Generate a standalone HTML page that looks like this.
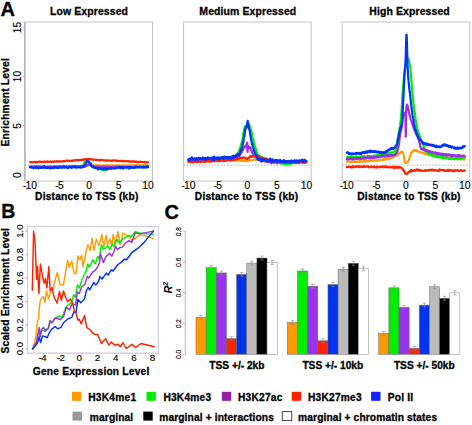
<!DOCTYPE html>
<html><head><meta charset="utf-8"><style>
html,body{margin:0;padding:0;background:#fff;width:472px;height:425px;overflow:hidden}
svg{display:block}
text{font-family:"Liberation Sans",sans-serif;fill:#000}
</style></head><body>
<svg width="472" height="425" viewBox="0 0 472 425">
<rect width="472" height="425" fill="#fff"/>
<rect x="24.9" y="22.0" width="127.6" height="159.0" fill="none" stroke="#c4c4c4" stroke-width="1"/>
<line x1="24.9" y1="165.16" x2="152.5" y2="165.16" stroke="#999" stroke-width="0.8" stroke-dasharray="1.5,1.6"/>
<rect x="183.6" y="22.0" width="127.6" height="159.0" fill="none" stroke="#c4c4c4" stroke-width="1"/>
<line x1="183.6" y1="165.16" x2="311.2" y2="165.16" stroke="#999" stroke-width="0.8" stroke-dasharray="1.5,1.6"/>
<rect x="342.2" y="22.0" width="127.6" height="159.0" fill="none" stroke="#c4c4c4" stroke-width="1"/>
<line x1="342.2" y1="165.16" x2="469.79999999999995" y2="165.16" stroke="#999" stroke-width="0.8" stroke-dasharray="1.5,1.6"/>
<polyline points="30.00,167.13 30.59,167.07 31.18,167.18 31.77,167.30 32.36,167.22 32.95,167.32 33.54,167.12 34.13,166.86 34.72,167.22 35.31,167.25 35.90,167.03 36.49,167.06 37.08,167.11 37.67,167.31 38.26,167.13 38.85,166.99 39.44,167.39 40.03,167.21 40.62,167.50 41.21,167.38 41.80,167.48 42.39,167.17 42.98,167.37 43.57,167.07 44.16,167.09 44.75,167.15 45.34,167.61 45.93,167.22 46.52,167.12 47.11,167.09 47.70,167.41 48.29,167.21 48.88,167.30 49.47,167.27 50.06,166.90 50.65,167.27 51.24,167.11 51.83,166.93 52.42,167.22 53.01,167.12 53.60,167.08 54.19,167.08 54.78,167.34 55.37,167.08 55.96,166.82 56.55,167.39 57.14,166.92 57.73,167.06 58.32,167.21 58.91,166.69 59.50,166.93 60.09,167.31 60.68,167.06 61.27,166.95 61.86,167.10 62.45,166.93 63.04,167.07 63.63,166.93 64.22,166.77 64.81,167.18 65.40,167.01 65.99,167.13 66.58,167.01 67.17,167.27 67.76,167.15 68.35,167.07 68.94,166.85 69.53,166.80 70.12,167.28 70.71,167.17 71.30,166.88 71.89,167.40 72.48,167.09 73.07,167.01 73.66,166.74 74.25,166.85 74.84,167.04 75.43,167.05 76.02,167.02 76.61,166.67 77.20,167.04 77.79,167.01 78.38,166.88 78.97,166.97 79.56,166.98 80.15,167.15 80.74,166.92 81.33,166.97 81.92,166.61 82.51,166.64 83.10,166.70 83.69,166.48 84.28,166.57 84.87,166.19 85.46,166.27 86.05,166.03 86.64,166.16 87.23,165.46 87.82,165.46 88.41,165.20 89.00,164.73 89.59,164.88 90.18,164.76 90.77,164.48 91.36,165.23 91.95,165.33 92.54,165.29 93.13,165.32 93.72,165.49 94.31,165.50 94.90,165.32 95.49,165.35 96.08,165.66 96.67,165.47 97.26,165.45 97.85,165.66 98.44,165.40 99.03,165.62 99.62,165.26 100.21,165.42 100.80,165.44 101.39,165.57 101.98,165.48 102.57,165.85 103.16,165.68 103.75,165.38 104.34,165.87 104.93,165.29 105.52,165.80 106.11,165.31 106.70,165.62 107.29,165.30 107.88,165.43 108.47,165.76 109.06,165.21 109.65,165.17 110.24,165.47 110.83,165.51 111.42,165.49 112.01,165.65 112.60,165.24 113.19,165.56 113.78,165.47 114.37,165.61 114.96,165.58 115.55,165.71 116.14,165.21 116.73,165.49 117.32,165.27 117.91,165.45 118.50,165.59 119.09,165.52 119.68,165.57 120.27,165.45 120.86,165.53 121.45,165.51 122.04,165.73 122.63,165.61 123.22,165.13 123.81,165.59 124.40,165.66 124.99,165.39 125.58,165.18 126.17,165.74 126.76,165.50 127.35,165.58 127.94,165.80 128.53,165.31 129.12,165.46 129.71,165.44 130.30,165.60 130.89,165.37 131.48,165.56 132.07,165.48 132.66,165.67 133.25,165.69 133.84,165.19 134.43,165.55 135.02,165.40 135.61,165.46 136.20,165.54 136.79,165.56 137.38,165.33 137.97,165.51 138.56,165.49 139.15,165.45 139.74,165.22 140.33,165.32 140.92,165.38 141.51,165.57 142.10,165.73 142.69,165.27 143.28,165.27 143.87,165.48 144.46,165.35 145.05,165.30 145.64,165.29 146.23,165.27 146.82,165.54 147.41,165.16 148.00,165.70" fill="none" stroke="#ff9d00" stroke-width="2.2" stroke-linejoin="round" stroke-linecap="round" />
<polyline points="30.00,166.96 30.59,167.03 31.18,166.96 31.77,166.76 32.36,166.84 32.95,167.35 33.54,167.46 34.13,166.97 34.72,167.33 35.31,167.13 35.90,166.96 36.49,167.45 37.08,167.54 37.67,167.07 38.26,167.12 38.85,167.17 39.44,167.11 40.03,167.29 40.62,167.42 41.21,167.15 41.80,167.31 42.39,167.44 42.98,167.02 43.57,167.13 44.16,167.03 44.75,167.31 45.34,167.24 45.93,167.30 46.52,167.28 47.11,167.07 47.70,167.26 48.29,167.03 48.88,167.03 49.47,166.70 50.06,167.37 50.65,166.91 51.24,167.10 51.83,167.09 52.42,167.36 53.01,167.17 53.60,166.93 54.19,167.08 54.78,167.05 55.37,167.12 55.96,166.83 56.55,167.06 57.14,167.48 57.73,167.18 58.32,167.42 58.91,167.67 59.50,167.13 60.09,166.76 60.68,167.01 61.27,167.24 61.86,167.19 62.45,166.77 63.04,166.96 63.63,166.97 64.22,166.99 64.81,166.96 65.40,166.80 65.99,166.85 66.58,166.90 67.17,167.14 67.76,166.83 68.35,167.06 68.94,166.70 69.53,167.15 70.12,166.92 70.71,166.89 71.30,167.14 71.89,166.53 72.48,166.57 73.07,166.94 73.66,166.68 74.25,166.75 74.84,167.33 75.43,166.75 76.02,166.80 76.61,166.76 77.20,166.97 77.79,166.80 78.38,166.77 78.97,166.49 79.56,166.64 80.15,166.70 80.74,166.38 81.33,166.78 81.92,166.73 82.51,166.99 83.10,165.85 83.69,164.80 84.28,163.30 84.87,161.83 85.46,160.78 86.05,160.30 86.64,160.55 87.23,160.99 87.82,161.61 88.41,162.13 89.00,163.20 89.59,164.20 90.18,165.12 90.77,165.80 91.36,165.83 91.95,166.37 92.54,166.75 93.13,167.11 93.72,167.51 94.31,167.54 94.90,167.57 95.49,168.02 96.08,168.17 96.67,168.34 97.26,168.43 97.85,168.92 98.44,168.80 99.03,169.07 99.62,168.88 100.21,169.35 100.80,169.22 101.39,169.15 101.98,169.63 102.57,169.77 103.16,169.69 103.75,169.77 104.34,169.98 104.93,169.66 105.52,169.27 106.11,169.59 106.70,169.41 107.29,169.38 107.88,168.90 108.47,168.98 109.06,168.73 109.65,168.04 110.24,168.27 110.83,167.70 111.42,167.47 112.01,167.62 112.60,167.51 113.19,167.22 113.78,167.62 114.37,167.68 114.96,167.81 115.55,167.52 116.14,167.22 116.73,167.31 117.32,167.67 117.91,167.63 118.50,167.55 119.09,167.38 119.68,167.46 120.27,167.37 120.86,167.34 121.45,167.44 122.04,167.38 122.63,167.32 123.22,167.36 123.81,167.23 124.40,166.95 124.99,167.20 125.58,167.29 126.17,167.62 126.76,167.21 127.35,167.66 127.94,167.54 128.53,167.09 129.12,167.11 129.71,167.27 130.30,167.57 130.89,167.30 131.48,167.35 132.07,167.08 132.66,166.76 133.25,167.15 133.84,167.34 134.43,167.42 135.02,167.19 135.61,167.21 136.20,167.40 136.79,167.14 137.38,167.39 137.97,166.94 138.56,166.95 139.15,166.94 139.74,167.24 140.33,167.04 140.92,167.17 141.51,167.22 142.10,167.20 142.69,167.39 143.28,167.42 143.87,166.98 144.46,167.17 145.05,167.09 145.64,166.93 146.23,167.47 146.82,167.28 147.41,167.09 148.00,167.05" fill="none" stroke="#00ee00" stroke-width="2.2" stroke-linejoin="round" stroke-linecap="round" />
<polyline points="30.00,166.71 30.59,166.43 31.18,166.59 31.77,166.87 32.36,166.82 32.95,166.48 33.54,166.54 34.13,167.01 34.72,166.37 35.31,166.52 35.90,166.37 36.49,166.71 37.08,166.69 37.67,166.86 38.26,166.13 38.85,166.67 39.44,166.32 40.03,166.76 40.62,166.60 41.21,166.96 41.80,166.71 42.39,166.44 42.98,166.87 43.57,166.42 44.16,166.56 44.75,166.83 45.34,166.72 45.93,166.71 46.52,166.63 47.11,166.73 47.70,166.78 48.29,166.68 48.88,166.82 49.47,166.87 50.06,166.62 50.65,166.44 51.24,166.91 51.83,166.61 52.42,166.73 53.01,166.80 53.60,166.43 54.19,166.70 54.78,166.30 55.37,166.75 55.96,166.52 56.55,166.64 57.14,166.74 57.73,166.47 58.32,166.61 58.91,166.46 59.50,166.59 60.09,166.79 60.68,166.59 61.27,166.56 61.86,166.38 62.45,166.74 63.04,166.56 63.63,166.89 64.22,166.42 64.81,166.76 65.40,166.90 65.99,166.55 66.58,166.32 67.17,166.83 67.76,166.74 68.35,166.67 68.94,166.74 69.53,166.43 70.12,166.66 70.71,166.64 71.30,166.38 71.89,166.64 72.48,166.40 73.07,166.67 73.66,166.71 74.25,166.83 74.84,166.09 75.43,166.52 76.02,166.40 76.61,166.45 77.20,166.40 77.79,166.42 78.38,166.04 78.97,166.62 79.56,166.71 80.15,166.60 80.74,166.65 81.33,166.24 81.92,166.21 82.51,166.56 83.10,166.63 83.69,166.42 84.28,166.07 84.87,166.82 85.46,165.97 86.05,166.01 86.64,165.29 87.23,165.40 87.82,164.98 88.41,165.04 89.00,164.86 89.59,164.48 90.18,164.81 90.77,165.36 91.36,165.81 91.95,166.38 92.54,166.40 93.13,166.55 93.72,166.65 94.31,166.66 94.90,166.87 95.49,166.67 96.08,166.68 96.67,166.42 97.26,166.32 97.85,166.72 98.44,166.85 99.03,166.72 99.62,166.83 100.21,166.87 100.80,166.74 101.39,166.94 101.98,166.62 102.57,166.77 103.16,166.71 103.75,166.80 104.34,166.91 104.93,166.96 105.52,166.83 106.11,166.89 106.70,166.74 107.29,166.80 107.88,167.07 108.47,166.79 109.06,167.07 109.65,166.94 110.24,166.88 110.83,167.23 111.42,166.81 112.01,166.80 112.60,166.87 113.19,166.92 113.78,166.92 114.37,167.04 114.96,166.91 115.55,166.96 116.14,166.84 116.73,167.10 117.32,166.82 117.91,166.84 118.50,166.90 119.09,166.96 119.68,166.77 120.27,167.21 120.86,166.79 121.45,166.84 122.04,166.83 122.63,166.82 123.22,167.02 123.81,166.95 124.40,166.77 124.99,166.82 125.58,166.86 126.17,167.20 126.76,166.80 127.35,166.68 127.94,166.71 128.53,166.86 129.12,167.22 129.71,166.73 130.30,166.94 130.89,167.41 131.48,166.84 132.07,167.21 132.66,167.17 133.25,167.05 133.84,166.67 134.43,167.00 135.02,166.87 135.61,166.58 136.20,166.61 136.79,166.95 137.38,166.97 137.97,167.18 138.56,167.06 139.15,166.84 139.74,166.85 140.33,166.91 140.92,166.73 141.51,167.08 142.10,166.94 142.69,166.79 143.28,166.82 143.87,166.72 144.46,166.85 145.05,166.99 145.64,166.86 146.23,167.13 146.82,167.25 147.41,166.82 148.00,166.94" fill="none" stroke="#9933dd" stroke-width="2.2" stroke-linejoin="round" stroke-linecap="round" />
<polyline points="30.00,161.95 30.59,162.34 31.18,162.08 31.77,162.13 32.36,162.18 32.95,162.45 33.54,162.07 34.13,161.82 34.72,161.92 35.31,162.11 35.90,161.98 36.49,161.83 37.08,162.51 37.67,161.99 38.26,161.85 38.85,161.81 39.44,161.60 40.03,161.70 40.62,161.86 41.21,161.85 41.80,161.74 42.39,161.99 42.98,161.88 43.57,161.69 44.16,161.47 44.75,161.87 45.34,161.84 45.93,161.77 46.52,161.53 47.11,161.79 47.70,161.48 48.29,161.95 48.88,161.78 49.47,161.76 50.06,161.55 50.65,161.49 51.24,161.97 51.83,161.84 52.42,161.58 53.01,161.76 53.60,161.91 54.19,161.39 54.78,161.48 55.37,161.46 55.96,161.63 56.55,161.31 57.14,161.55 57.73,161.26 58.32,161.64 58.91,161.61 59.50,161.38 60.09,161.54 60.68,161.24 61.27,161.30 61.86,161.50 62.45,161.27 63.04,161.32 63.63,161.03 64.22,161.29 64.81,161.22 65.40,160.85 65.99,160.60 66.58,160.61 67.17,160.94 67.76,160.87 68.35,160.56 68.94,160.84 69.53,160.97 70.12,160.71 70.71,160.60 71.30,160.81 71.89,160.92 72.48,160.83 73.07,160.37 73.66,160.60 74.25,160.43 74.84,160.31 75.43,160.17 76.02,160.31 76.61,160.09 77.20,160.31 77.79,160.16 78.38,160.24 78.97,159.76 79.56,159.94 80.15,160.03 80.74,159.90 81.33,159.83 81.92,159.60 82.51,160.01 83.10,159.85 83.69,159.68 84.28,159.06 84.87,159.31 85.46,159.47 86.05,159.26 86.64,158.95 87.23,159.36 87.82,159.36 88.41,159.02 89.00,159.16 89.59,159.13 90.18,159.39 90.77,158.96 91.36,159.06 91.95,159.34 92.54,159.39 93.13,159.98 93.72,159.52 94.31,159.74 94.90,159.66 95.49,159.65 96.08,159.89 96.67,160.19 97.26,159.82 97.85,160.07 98.44,160.03 99.03,160.11 99.62,160.09 100.21,160.51 100.80,159.85 101.39,160.07 101.98,159.93 102.57,159.78 103.16,160.20 103.75,160.59 104.34,160.43 104.93,160.52 105.52,160.41 106.11,160.32 106.70,160.76 107.29,160.32 107.88,160.71 108.47,160.38 109.06,160.49 109.65,160.56 110.24,160.53 110.83,160.65 111.42,160.69 112.01,160.93 112.60,160.63 113.19,160.29 113.78,160.29 114.37,160.44 114.96,160.59 115.55,160.89 116.14,160.50 116.73,160.83 117.32,160.86 117.91,160.93 118.50,160.88 119.09,161.01 119.68,160.97 120.27,161.19 120.86,161.08 121.45,160.59 122.04,161.08 122.63,161.14 123.22,161.01 123.81,161.00 124.40,161.39 124.99,161.24 125.58,161.04 126.17,161.20 126.76,161.25 127.35,161.00 127.94,161.46 128.53,161.34 129.12,161.49 129.71,161.12 130.30,161.82 130.89,161.60 131.48,161.59 132.07,161.39 132.66,161.42 133.25,161.30 133.84,161.91 134.43,161.47 135.02,161.71 135.61,161.81 136.20,161.59 136.79,161.91 137.38,162.16 137.97,161.85 138.56,162.10 139.15,161.96 139.74,161.78 140.33,161.82 140.92,161.59 141.51,161.97 142.10,162.26 142.69,162.13 143.28,162.19 143.87,162.27 144.46,161.97 145.05,162.21 145.64,162.50 146.23,162.00 146.82,162.18 147.41,162.11 148.00,162.19" fill="none" stroke="#ff2200" stroke-width="2.2" stroke-linejoin="round" stroke-linecap="round" />
<polyline points="30.00,167.21 30.59,167.50 31.18,166.91 31.77,167.31 32.36,167.33 32.95,167.32 33.54,168.24 34.13,167.60 34.72,167.65 35.31,167.42 35.90,168.19 36.49,166.71 37.08,167.46 37.67,168.11 38.26,168.35 38.85,167.65 39.44,167.55 40.03,167.86 40.62,167.46 41.21,167.82 41.80,167.23 42.39,167.86 42.98,167.52 43.57,167.02 44.16,166.23 44.75,167.99 45.34,167.72 45.93,167.90 46.52,167.10 47.11,168.05 47.70,167.72 48.29,167.49 48.88,167.96 49.47,167.94 50.06,167.70 50.65,168.50 51.24,168.18 51.83,167.66 52.42,167.39 53.01,167.55 53.60,168.32 54.19,167.68 54.78,167.05 55.37,167.17 55.96,167.48 56.55,167.87 57.14,167.12 57.73,167.71 58.32,168.00 58.91,167.81 59.50,166.70 60.09,167.30 60.68,166.84 61.27,167.64 61.86,166.94 62.45,167.69 63.04,167.47 63.63,166.16 64.22,167.00 64.81,167.62 65.40,167.41 65.99,167.21 66.58,166.77 67.17,167.60 67.76,168.21 68.35,167.49 68.94,167.34 69.53,167.29 70.12,166.69 70.71,167.17 71.30,166.92 71.89,167.86 72.48,166.89 73.07,166.28 73.66,166.92 74.25,167.17 74.84,167.22 75.43,166.41 76.02,167.73 76.61,167.32 77.20,167.03 77.79,166.88 78.38,167.45 78.97,167.07 79.56,167.34 80.15,167.13 80.74,167.24 81.33,167.71 81.92,167.14 82.51,166.54 83.10,167.05 83.69,166.12 84.28,164.98 84.87,165.06 85.46,163.67 86.05,163.55 86.64,161.84 87.23,160.78 87.82,160.66 88.41,161.77 89.00,161.66 89.59,162.58 90.18,163.40 90.77,163.59 91.36,165.90 91.95,165.56 92.54,166.76 93.13,166.43 93.72,167.26 94.31,167.88 94.90,167.59 95.49,167.51 96.08,167.99 96.67,167.88 97.26,168.48 97.85,169.36 98.44,167.95 99.03,168.14 99.62,168.49 100.21,168.61 100.80,168.20 101.39,169.00 101.98,169.17 102.57,168.96 103.16,168.31 103.75,169.58 104.34,168.31 104.93,169.20 105.52,169.41 106.11,168.22 106.70,168.86 107.29,169.42 107.88,168.92 108.47,168.24 109.06,168.07 109.65,168.82 110.24,168.36 110.83,168.16 111.42,168.77 112.01,168.23 112.60,168.36 113.19,168.56 113.78,168.48 114.37,168.16 114.96,168.13 115.55,168.37 116.14,168.26 116.73,167.46 117.32,167.87 117.91,167.51 118.50,167.32 119.09,167.60 119.68,166.75 120.27,168.25 120.86,167.42 121.45,167.95 122.04,166.86 122.63,166.91 123.22,168.69 123.81,168.18 124.40,167.36 124.99,167.27 125.58,167.27 126.17,167.65 126.76,167.37 127.35,167.25 127.94,167.59 128.53,167.02 129.12,168.62 129.71,167.18 130.30,167.98 130.89,166.98 131.48,167.54 132.07,167.85 132.66,167.21 133.25,167.82 133.84,167.81 134.43,168.11 135.02,167.34 135.61,167.06 136.20,166.79 136.79,167.35 137.38,166.75 137.97,167.24 138.56,167.28 139.15,166.94 139.74,166.69 140.33,167.37 140.92,167.31 141.51,167.26 142.10,167.13 142.69,167.61 143.28,166.65 143.87,167.35 144.46,166.92 145.05,167.55 145.64,166.96 146.23,166.94 146.82,167.34 147.41,166.13 148.00,166.95" fill="none" stroke="#0033ff" stroke-width="2.2" stroke-linejoin="round" stroke-linecap="round" />
<polyline points="188.40,161.86 188.99,161.95 189.58,162.19 190.17,162.07 190.76,161.84 191.35,161.84 191.94,161.78 192.53,161.79 193.12,162.02 193.71,161.65 194.30,161.99 194.89,161.42 195.48,161.58 196.07,161.53 196.66,161.38 197.25,161.23 197.84,161.52 198.43,161.53 199.02,161.35 199.61,161.50 200.20,161.25 200.79,160.70 201.38,161.18 201.97,160.81 202.56,161.17 203.15,160.81 203.74,160.89 204.33,160.81 204.92,160.65 205.51,160.39 206.10,160.67 206.69,160.65 207.28,160.84 207.87,160.51 208.46,160.65 209.05,160.41 209.64,160.56 210.23,160.19 210.82,160.90 211.41,160.55 212.00,160.30 212.59,160.52 213.18,160.59 213.77,160.47 214.36,160.68 214.95,160.37 215.54,159.90 216.13,160.14 216.72,160.57 217.31,160.52 217.90,160.41 218.49,160.13 219.08,160.48 219.67,160.44 220.26,160.12 220.85,160.12 221.44,160.36 222.03,160.50 222.62,160.58 223.21,160.41 223.80,160.70 224.39,160.11 224.98,160.38 225.57,160.16 226.16,159.88 226.75,160.02 227.34,160.47 227.93,160.07 228.52,160.02 229.11,160.39 229.70,160.43 230.29,160.26 230.88,160.56 231.47,159.95 232.06,160.71 232.65,160.46 233.24,160.30 233.83,160.31 234.42,160.25 235.01,160.25 235.60,160.38 236.19,160.15 236.78,160.83 237.37,160.45 237.96,160.64 238.55,160.51 239.14,160.54 239.73,160.80 240.32,160.79 240.91,160.54 241.50,160.66 242.09,160.90 242.68,160.40 243.27,160.39 243.86,161.17 244.45,160.86 245.04,160.46 245.63,160.83 246.22,160.96 246.81,161.06 247.40,161.13 247.99,161.00 248.58,160.90 249.17,160.43 249.76,160.45 250.35,160.33 250.94,160.40 251.53,160.09 252.12,160.19 252.71,159.98 253.30,159.68 253.89,159.76 254.48,159.70 255.07,159.70 255.66,159.74 256.25,159.77 256.84,159.83 257.43,159.66 258.02,160.08 258.61,159.67 259.20,160.01 259.79,160.26 260.38,160.32 260.97,160.48 261.56,160.44 262.15,160.75 262.74,160.52 263.33,161.04 263.92,161.47 264.51,161.31 265.10,161.70 265.69,161.44 266.28,161.36 266.87,161.56 267.46,162.06 268.05,162.05 268.64,161.65 269.23,162.01 269.82,162.13 270.41,161.97 271.00,161.73 271.59,161.97 272.18,162.21 272.77,162.19 273.36,162.15 273.95,162.41 274.54,162.51 275.13,162.31 275.72,162.52 276.31,162.36 276.90,162.34 277.49,161.92 278.08,162.56 278.67,162.43 279.26,162.45 279.85,162.34 280.44,162.24 281.03,162.55 281.62,162.63 282.21,162.80 282.80,162.67 283.39,162.39 283.98,162.50 284.57,162.72 285.16,162.60 285.75,162.53 286.34,162.45 286.93,162.67 287.52,162.61 288.11,162.93 288.70,162.81 289.29,162.27 289.88,163.03 290.47,162.67 291.06,162.57 291.65,162.69 292.24,162.78 292.83,162.64 293.42,162.64 294.01,162.66 294.60,163.02 295.19,162.68 295.78,162.83 296.37,162.77 296.96,162.62 297.55,162.55 298.14,162.50 298.73,162.78 299.32,162.50 299.91,162.45 300.50,162.46 301.09,162.42 301.68,162.72 302.27,162.73 302.86,162.53 303.45,162.97 304.04,162.66 304.63,162.80 305.22,162.77 305.81,163.04 306.40,162.88" fill="none" stroke="#ff9d00" stroke-width="2.2" stroke-linejoin="round" stroke-linecap="round" />
<polyline points="188.40,159.07 188.69,158.80 188.99,158.77 189.29,159.08 189.58,159.11 189.88,159.30 190.17,158.94 190.47,159.13 190.76,158.88 191.06,158.54 191.35,159.06 191.65,159.49 191.94,159.30 192.24,159.48 192.53,159.40 192.83,158.66 193.12,158.98 193.42,159.49 193.71,158.84 194.01,158.66 194.30,159.14 194.60,159.23 194.89,159.13 195.19,158.94 195.48,158.83 195.78,158.67 196.07,158.65 196.37,158.66 196.66,158.60 196.96,158.80 197.25,159.45 197.55,159.03 197.84,158.89 198.14,159.09 198.43,158.71 198.73,159.08 199.02,159.24 199.32,158.53 199.61,158.76 199.91,158.88 200.20,158.67 200.50,158.62 200.79,158.83 201.09,159.65 201.38,159.12 201.68,159.04 201.97,159.19 202.27,158.84 202.56,158.53 202.86,159.02 203.15,159.21 203.45,158.26 203.74,158.99 204.04,159.21 204.33,158.77 204.63,158.70 204.92,159.03 205.22,158.58 205.51,158.94 205.81,159.06 206.10,158.73 206.40,158.54 206.69,158.94 206.99,158.65 207.28,158.76 207.58,157.89 207.87,158.92 208.17,158.29 208.46,158.70 208.76,158.71 209.05,158.45 209.35,158.39 209.64,158.27 209.94,158.53 210.23,158.79 210.53,158.76 210.82,158.44 211.12,158.40 211.41,158.14 211.71,158.42 212.00,158.22 212.30,158.07 212.59,158.45 212.89,158.92 213.18,158.81 213.48,158.87 213.77,157.96 214.07,158.67 214.36,158.04 214.66,158.21 214.95,157.86 215.25,158.05 215.54,158.36 215.84,158.37 216.13,158.27 216.43,158.22 216.72,158.41 217.02,158.25 217.31,157.74 217.61,158.70 217.90,158.10 218.20,158.43 218.49,158.08 218.79,157.87 219.08,158.11 219.38,157.85 219.67,158.52 219.97,157.70 220.26,158.19 220.56,157.80 220.85,157.91 221.15,158.70 221.44,158.14 221.74,157.83 222.03,157.41 222.33,157.76 222.62,157.74 222.92,158.21 223.21,157.35 223.51,157.21 223.80,157.71 224.10,157.76 224.39,158.14 224.69,157.38 224.98,156.82 225.28,157.37 225.57,157.19 225.87,157.37 226.16,157.79 226.46,157.08 226.75,157.81 227.05,157.48 227.34,157.30 227.64,157.09 227.93,157.20 228.23,157.18 228.52,157.49 228.82,157.61 229.11,157.18 229.41,157.38 229.70,157.52 230.00,157.48 230.29,157.22 230.59,157.59 230.88,157.40 231.18,157.45 231.47,156.88 231.77,156.78 232.06,156.27 232.36,157.27 232.65,157.00 232.95,156.48 233.24,156.75 233.54,156.69 233.83,155.98 234.13,156.46 234.42,156.56 234.72,156.45 235.01,155.79 235.31,155.61 235.60,155.90 235.90,155.57 236.19,154.89 236.49,154.63 236.78,154.74 237.08,154.10 237.37,153.79 237.67,154.08 237.96,153.18 238.26,152.43 238.55,152.13 238.85,151.96 239.14,150.73 239.44,149.71 239.73,148.73 240.03,149.08 240.32,146.83 240.62,146.99 240.91,145.34 241.21,144.14 241.50,143.03 241.80,142.05 242.09,141.19 242.39,139.39 242.68,138.36 242.98,137.21 243.27,133.81 243.57,132.57 243.86,130.45 244.16,129.65 244.45,127.61 244.75,126.64 245.04,126.17 245.34,126.28 245.63,126.29 245.93,125.67 246.22,125.98 246.52,125.58 246.81,124.83 247.11,124.95 247.40,124.55 247.70,124.41 247.99,123.72 248.29,123.86 248.58,124.24 248.88,124.07 249.17,125.10 249.47,125.58 249.76,125.94 250.06,127.36 250.35,127.85 250.65,129.01 250.94,129.61 251.24,130.33 251.53,132.31 251.83,133.36 252.12,135.08 252.42,136.55 252.71,137.94 253.01,138.46 253.30,139.41 253.60,141.08 253.89,142.54 254.19,143.21 254.48,144.59 254.78,145.31 255.07,146.49 255.37,147.50 255.66,148.37 255.96,149.66 256.25,150.50 256.55,151.74 256.84,152.25 257.14,153.42 257.43,153.86 257.73,154.82 258.02,155.06 258.32,155.31 258.61,156.15 258.91,156.24 259.20,156.51 259.50,156.23 259.79,156.14 260.09,156.57 260.38,157.08 260.68,156.70 260.97,157.71 261.27,156.96 261.56,157.72 261.86,158.47 262.15,157.00 262.45,157.44 262.74,158.34 263.04,158.10 263.33,158.34 263.63,158.36 263.92,158.94 264.22,158.82 264.51,158.59 264.81,158.77 265.10,158.59 265.40,159.02 265.69,158.45 265.99,159.46 266.28,159.27 266.58,160.01 266.87,159.91 267.17,159.24 267.46,160.00 267.76,159.65 268.05,159.92 268.35,160.29 268.64,160.17 268.94,160.31 269.23,160.38 269.53,160.10 269.82,160.21 270.12,160.65 270.41,160.83 270.71,160.55 271.00,160.74 271.30,160.48 271.59,160.08 271.89,160.69 272.18,161.02 272.48,161.13 272.77,161.41 273.07,161.49 273.36,161.59 273.66,161.48 273.95,161.56 274.25,161.29 274.54,161.70 274.84,161.71 275.13,162.08 275.43,161.30 275.72,161.71 276.02,161.40 276.31,161.77 276.61,161.64 276.90,162.23 277.20,162.02 277.49,161.51 277.79,162.75 278.08,162.12 278.38,162.04 278.67,162.49 278.97,162.47 279.26,162.39 279.56,163.04 279.85,162.79 280.15,163.25 280.44,163.26 280.74,163.31 281.03,163.24 281.33,163.22 281.62,163.19 281.92,163.81 282.21,162.84 282.51,163.15 282.80,163.33 283.10,163.71 283.39,163.67 283.69,163.52 283.98,163.60 284.28,164.27 284.57,163.57 284.87,162.94 285.16,164.40 285.46,163.56 285.75,163.76 286.05,163.91 286.34,163.47 286.64,164.24 286.93,163.82 287.23,163.41 287.52,163.89 287.82,163.93 288.11,163.74 288.41,163.87 288.70,163.23 289.00,163.93 289.29,163.34 289.59,163.94 289.88,163.31 290.18,163.49 290.47,164.18 290.77,163.35 291.06,163.61 291.36,163.37 291.65,162.71 291.95,163.46 292.24,163.38 292.54,162.57 292.83,162.92 293.13,162.44 293.42,162.76 293.72,163.08 294.01,162.79 294.31,162.36 294.60,162.41 294.90,162.67 295.19,162.62 295.49,162.64 295.78,162.75 296.08,161.96 296.37,162.51 296.67,162.83 296.96,162.60 297.26,162.20 297.55,162.20 297.85,162.41 298.14,162.54 298.44,162.30 298.73,162.79 299.03,162.65 299.32,161.98 299.62,162.35 299.91,162.06 300.21,161.78 300.50,161.92 300.80,162.09 301.09,161.43 301.39,161.84 301.68,162.13 301.98,161.78 302.27,161.85 302.57,162.21 302.86,161.91 303.16,161.96 303.45,162.49 303.75,161.92 304.04,161.94 304.34,161.96 304.63,162.31 304.93,161.90 305.22,161.79 305.52,161.73 305.81,162.09 306.11,161.54 306.40,162.08" fill="none" stroke="#00ee00" stroke-width="2.2" stroke-linejoin="round" stroke-linecap="round" />
<polyline points="188.40,159.82 188.52,159.35 188.64,159.96 188.75,159.90 188.87,159.42 188.99,159.86 189.11,159.84 189.23,159.68 189.34,159.43 189.46,160.42 189.58,160.00 189.70,160.05 189.82,160.08 189.93,160.01 190.05,160.00 190.17,159.66 190.29,160.02 190.41,159.71 190.52,159.62 190.64,159.97 190.76,159.71 190.88,159.25 191.00,159.65 191.11,159.94 191.23,159.76 191.35,160.02 191.47,159.66 191.59,159.48 191.70,159.99 191.82,159.81 191.94,159.41 192.06,159.89 192.18,159.68 192.29,160.05 192.41,159.99 192.53,159.89 192.65,159.10 192.77,159.86 192.88,159.89 193.00,159.90 193.12,159.79 193.24,159.54 193.36,159.68 193.47,159.13 193.59,159.67 193.71,159.31 193.83,159.65 193.95,159.55 194.06,160.16 194.18,159.77 194.30,159.75 194.42,159.80 194.54,160.36 194.65,159.47 194.77,159.84 194.89,159.85 195.01,159.80 195.13,159.79 195.24,159.60 195.36,160.10 195.48,160.00 195.60,159.63 195.72,159.68 195.83,159.83 195.95,159.89 196.07,159.96 196.19,159.73 196.31,159.37 196.42,160.03 196.54,159.26 196.66,159.46 196.78,159.84 196.90,159.48 197.01,160.14 197.13,160.22 197.25,160.09 197.37,159.82 197.49,159.80 197.60,159.85 197.72,159.67 197.84,160.33 197.96,159.55 198.08,160.12 198.19,159.89 198.31,159.82 198.43,160.03 198.55,160.10 198.67,159.99 198.78,159.69 198.90,159.51 199.02,159.52 199.14,159.98 199.26,159.92 199.37,159.95 199.49,159.55 199.61,160.28 199.73,159.31 199.85,159.82 199.96,159.90 200.08,159.57 200.20,159.36 200.32,159.57 200.44,159.36 200.55,159.62 200.67,159.30 200.79,159.29 200.91,159.69 201.03,159.23 201.14,159.61 201.26,159.63 201.38,159.92 201.50,159.73 201.62,159.42 201.73,160.03 201.85,159.45 201.97,159.54 202.09,159.56 202.21,160.29 202.32,159.67 202.44,159.44 202.56,159.86 202.68,159.60 202.80,160.33 202.91,159.43 203.03,159.82 203.15,159.36 203.27,160.16 203.39,159.41 203.50,159.68 203.62,159.37 203.74,159.88 203.86,159.79 203.98,158.94 204.09,159.85 204.21,159.81 204.33,159.68 204.45,159.90 204.57,159.24 204.68,159.08 204.80,159.80 204.92,160.10 205.04,159.24 205.16,159.25 205.27,159.34 205.39,159.23 205.51,159.83 205.63,159.62 205.75,159.98 205.86,159.98 205.98,159.27 206.10,159.76 206.22,158.88 206.34,159.53 206.45,159.74 206.57,159.31 206.69,159.01 206.81,159.40 206.93,159.90 207.04,159.43 207.16,159.13 207.28,159.68 207.40,159.76 207.52,159.23 207.63,159.48 207.75,159.85 207.87,159.63 207.99,159.74 208.11,159.42 208.22,159.48 208.34,159.16 208.46,159.29 208.58,159.96 208.70,159.37 208.81,159.23 208.93,159.35 209.05,159.18 209.17,159.64 209.29,159.76 209.40,159.20 209.52,159.79 209.64,160.11 209.76,159.16 209.88,159.68 209.99,159.55 210.11,159.87 210.23,159.84 210.35,159.79 210.47,159.55 210.58,159.33 210.70,160.11 210.82,159.21 210.94,159.78 211.06,159.74 211.17,159.22 211.29,159.44 211.41,159.87 211.53,158.87 211.65,159.66 211.76,159.33 211.88,159.34 212.00,158.98 212.12,159.53 212.24,159.09 212.35,159.60 212.47,159.05 212.59,159.60 212.71,159.48 212.83,158.81 212.94,159.27 213.06,159.33 213.18,158.69 213.30,159.24 213.42,159.59 213.53,159.12 213.65,159.69 213.77,159.00 213.89,158.97 214.01,159.49 214.12,159.51 214.24,159.26 214.36,159.31 214.48,159.60 214.60,159.13 214.71,159.90 214.83,159.42 214.95,159.41 215.07,159.37 215.19,159.19 215.30,159.64 215.42,159.10 215.54,159.32 215.66,159.45 215.78,159.66 215.89,159.60 216.01,159.14 216.13,159.53 216.25,159.22 216.37,158.92 216.48,158.92 216.60,158.76 216.72,159.30 216.84,159.53 216.96,158.91 217.07,159.11 217.19,158.87 217.31,159.19 217.43,158.83 217.55,158.93 217.66,158.97 217.78,159.02 217.90,159.05 218.02,159.09 218.14,159.09 218.25,158.86 218.37,159.30 218.49,158.63 218.61,159.17 218.73,158.84 218.84,159.15 218.96,159.19 219.08,158.51 219.20,159.20 219.32,159.48 219.43,159.31 219.55,159.18 219.67,158.45 219.79,159.02 219.91,158.80 220.02,159.36 220.14,158.96 220.26,158.86 220.38,158.52 220.50,159.25 220.61,158.86 220.73,158.94 220.85,159.33 220.97,159.03 221.09,159.09 221.20,159.69 221.32,158.83 221.44,158.84 221.56,159.12 221.68,159.38 221.79,158.54 221.91,158.89 222.03,158.66 222.15,158.54 222.27,159.11 222.38,158.71 222.50,159.01 222.62,158.95 222.74,158.95 222.86,158.92 222.97,158.59 223.09,158.87 223.21,158.95 223.33,158.98 223.45,158.79 223.56,159.15 223.68,159.02 223.80,158.88 223.92,159.03 224.04,158.89 224.15,159.03 224.27,158.25 224.39,158.44 224.51,158.69 224.63,158.84 224.74,158.17 224.86,158.71 224.98,158.82 225.10,158.70 225.22,158.69 225.33,158.36 225.45,158.78 225.57,158.14 225.69,159.02 225.81,158.54 225.92,159.04 226.04,158.20 226.16,158.82 226.28,158.74 226.40,158.44 226.51,158.33 226.63,159.03 226.75,158.79 226.87,159.09 226.99,158.63 227.10,158.70 227.22,158.76 227.34,158.85 227.46,158.76 227.58,158.86 227.69,158.47 227.81,158.17 227.93,159.18 228.05,158.64 228.17,158.72 228.28,158.44 228.40,158.86 228.52,158.62 228.64,158.87 228.76,158.35 228.87,158.52 228.99,158.59 229.11,158.42 229.23,158.60 229.35,158.98 229.46,158.33 229.58,158.41 229.70,158.54 229.82,158.19 229.94,158.11 230.05,158.79 230.17,158.69 230.29,157.99 230.41,158.02 230.53,158.65 230.64,158.77 230.76,158.60 230.88,158.55 231.00,158.87 231.12,158.38 231.23,158.76 231.35,158.73 231.47,158.09 231.59,158.56 231.71,158.37 231.82,158.15 231.94,158.09 232.06,158.42 232.18,158.30 232.30,158.54 232.41,157.77 232.53,158.09 232.65,158.60 232.77,158.26 232.89,158.04 233.00,158.10 233.12,157.68 233.24,157.80 233.36,158.35 233.48,158.19 233.59,158.52 233.71,158.05 233.83,158.05 233.95,157.27 234.07,158.02 234.18,158.63 234.30,158.18 234.42,157.92 234.54,158.29 234.66,158.14 234.77,157.96 234.89,157.71 235.01,157.82 235.13,157.99 235.25,157.46 235.36,157.81 235.48,157.75 235.60,157.96 235.72,157.74 235.84,157.27 235.95,157.89 236.07,157.38 236.19,157.09 236.31,157.36 236.43,157.13 236.54,157.47 236.66,156.70 236.78,156.70 236.90,156.90 237.02,157.42 237.13,157.15 237.25,156.49 237.37,156.21 237.49,156.57 237.61,156.22 237.72,156.70 237.84,156.51 237.96,156.38 238.08,156.19 238.20,156.69 238.31,155.89 238.43,155.70 238.55,156.36 238.67,156.35 238.79,155.77 238.90,155.99 239.02,156.42 239.14,155.40 239.26,155.51 239.38,155.62 239.49,154.76 239.61,155.23 239.73,155.38 239.85,154.99 239.97,155.18 240.08,154.95 240.20,154.44 240.32,154.55 240.44,154.34 240.56,153.52 240.67,153.56 240.79,153.37 240.91,153.24 241.03,153.04 241.15,152.53 241.26,152.73 241.38,151.95 241.50,152.54 241.62,152.10 241.74,152.20 241.85,151.65 241.97,151.16 242.09,150.64 242.21,151.02 242.33,150.59 242.44,150.46 242.56,150.34 242.68,150.24 242.80,149.64 242.92,149.95 243.03,149.19 243.15,149.00 243.27,148.99 243.39,148.90 243.51,148.82 243.62,147.67 243.74,148.44 243.86,147.42 243.98,147.55 244.10,147.69 244.21,147.79 244.33,147.02 244.45,146.71 244.57,147.40 244.69,147.13 244.80,146.65 244.92,146.79 245.04,146.22 245.16,146.92 245.28,146.52 245.39,146.98 245.51,145.92 245.63,146.67 245.75,147.02 245.87,146.31 245.98,146.20 246.10,145.47 246.22,146.00 246.34,145.75 246.46,145.40 246.57,144.86 246.69,144.81 246.81,143.75 246.93,143.17 247.05,142.84 247.16,142.51 247.28,145.07 247.40,150.09 247.52,152.01 247.64,151.85 247.75,149.07 247.87,147.10 247.99,146.49 248.11,146.70 248.23,146.56 248.34,146.39 248.46,146.35 248.58,146.54 248.70,146.39 248.82,146.92 248.93,146.77 249.05,147.39 249.17,146.79 249.29,147.06 249.41,147.33 249.52,146.96 249.64,147.19 249.76,148.33 249.88,147.61 250.00,148.19 250.11,147.60 250.23,147.36 250.35,148.44 250.47,148.47 250.59,148.79 250.70,148.84 250.82,149.00 250.94,149.06 251.06,149.99 251.18,149.51 251.29,150.52 251.41,150.44 251.53,150.45 251.65,150.86 251.77,151.63 251.88,151.84 252.00,152.04 252.12,152.19 252.24,152.10 252.36,153.08 252.47,152.81 252.59,153.01 252.71,153.25 252.83,153.49 252.95,153.38 253.06,153.87 253.18,153.93 253.30,154.17 253.42,153.95 253.54,155.18 253.65,154.38 253.77,154.97 253.89,155.11 254.01,155.45 254.13,155.85 254.24,155.54 254.36,155.76 254.48,155.54 254.60,156.25 254.72,155.52 254.83,155.99 254.95,156.27 255.07,156.52 255.19,156.67 255.31,156.89 255.42,156.83 255.54,156.78 255.66,156.95 255.78,157.43 255.90,157.20 256.01,157.49 256.13,157.28 256.25,156.88 256.37,157.35 256.49,157.73 256.60,158.21 256.72,158.24 256.84,158.42 256.96,157.79 257.08,158.32 257.19,158.16 257.31,158.45 257.43,158.32 257.55,158.01 257.67,158.71 257.78,158.68 257.90,158.89 258.02,158.46 258.14,159.09 258.26,159.18 258.37,159.32 258.49,159.38 258.61,158.88 258.73,158.32 258.85,159.42 258.96,158.89 259.08,159.14 259.20,159.58 259.32,159.38 259.44,159.40 259.55,159.58 259.67,158.84 259.79,160.01 259.91,159.38 260.03,159.43 260.14,159.74 260.26,159.56 260.38,159.38 260.50,159.63 260.62,159.59 260.73,159.55 260.85,160.39 260.97,159.39 261.09,159.19 261.21,159.61 261.32,159.64 261.44,160.39 261.56,160.04 261.68,160.28 261.80,160.25 261.91,159.83 262.03,160.38 262.15,160.22 262.27,160.78 262.39,160.29 262.50,160.26 262.62,160.52 262.74,160.56 262.86,159.82 262.98,160.77 263.09,160.76 263.21,160.72 263.33,160.16 263.45,159.92 263.57,160.47 263.68,160.82 263.80,160.76 263.92,160.35 264.04,160.96 264.16,160.30 264.27,160.34 264.39,160.76 264.51,160.62 264.63,160.62 264.75,160.41 264.86,161.21 264.98,160.58 265.10,161.07 265.22,161.21 265.34,160.98 265.45,161.10 265.57,161.36 265.69,161.56 265.81,161.40 265.93,160.72 266.04,160.59 266.16,161.00 266.28,160.87 266.40,161.40 266.52,161.29 266.63,161.21 266.75,161.64 266.87,161.64 266.99,161.34 267.11,161.48 267.22,161.73 267.34,161.32 267.46,161.54 267.58,161.18 267.70,161.50 267.81,161.61 267.93,161.51 268.05,161.62 268.17,161.78 268.29,161.72 268.40,161.40 268.52,161.45 268.64,161.28 268.76,162.18 268.88,161.82 268.99,161.84 269.11,161.69 269.23,161.89 269.35,161.92 269.47,161.56 269.58,161.75 269.70,162.17 269.82,161.45 269.94,161.56 270.06,162.04 270.17,161.64 270.29,162.12 270.41,161.58 270.53,161.99 270.65,162.18 270.76,162.07 270.88,162.20 271.00,161.93 271.12,161.94 271.24,162.00 271.35,162.18 271.47,163.11 271.59,162.01 271.71,162.61 271.83,161.99 271.94,161.74 272.06,162.00 272.18,162.21 272.30,162.15 272.42,162.15 272.53,162.28 272.65,162.30 272.77,162.41 272.89,161.79 273.01,162.15 273.12,161.87 273.24,162.23 273.36,162.14 273.48,162.22 273.60,162.04 273.71,161.94 273.83,162.11 273.95,162.39 274.07,162.42 274.19,161.71 274.30,162.28 274.42,162.29 274.54,161.77 274.66,161.88 274.78,162.05 274.89,162.33 275.01,161.51 275.13,162.09 275.25,162.05 275.37,162.26 275.48,162.63 275.60,162.60 275.72,162.09 275.84,162.09 275.96,162.28 276.07,162.55 276.19,162.63 276.31,162.30 276.43,162.64 276.55,161.94 276.66,161.87 276.78,161.37 276.90,161.95 277.02,162.38 277.14,162.47 277.25,163.23 277.37,162.38 277.49,162.26 277.61,161.92 277.73,162.03 277.84,162.03 277.96,162.14 278.08,162.01 278.20,161.78 278.32,162.52 278.43,162.34 278.55,162.62 278.67,161.73 278.79,161.82 278.91,161.99 279.02,162.56 279.14,162.16 279.26,162.28 279.38,162.18 279.50,162.26 279.61,162.05 279.73,162.32 279.85,161.95 279.97,162.13 280.09,162.29 280.20,162.24 280.32,162.34 280.44,161.97 280.56,162.29 280.68,162.12 280.79,162.32 280.91,162.64 281.03,161.94 281.15,162.52 281.27,162.00 281.38,162.08 281.50,162.69 281.62,162.48 281.74,162.36 281.86,162.45 281.97,162.55 282.09,161.98 282.21,162.27 282.33,162.09 282.45,162.33 282.56,162.11 282.68,162.42 282.80,162.21 282.92,162.03 283.04,162.19 283.15,162.33 283.27,162.52 283.39,162.15 283.51,162.10 283.63,162.27 283.74,162.42 283.86,162.04 283.98,161.46 284.10,162.29 284.22,162.10 284.33,162.08 284.45,162.95 284.57,162.16 284.69,162.40 284.81,161.78 284.92,162.27 285.04,162.42 285.16,162.26 285.28,162.14 285.40,162.36 285.51,162.21 285.63,162.59 285.75,162.26 285.87,161.96 285.99,161.61 286.10,161.98 286.22,162.11 286.34,161.84 286.46,161.88 286.58,161.69 286.69,161.86 286.81,162.22 286.93,162.11 287.05,162.13 287.17,162.09 287.28,162.12 287.40,162.41 287.52,162.80 287.64,162.37 287.76,162.77 287.87,162.15 287.99,162.17 288.11,162.67 288.23,161.97 288.35,161.91 288.46,162.14 288.58,161.68 288.70,161.62 288.82,162.52 288.94,161.86 289.05,162.03 289.17,162.04 289.29,161.89 289.41,162.37 289.53,162.33 289.64,162.40 289.76,162.38 289.88,162.19 290.00,162.58 290.12,162.46 290.23,161.98 290.35,162.17 290.47,162.04 290.59,162.71 290.71,162.38 290.82,162.31 290.94,162.13 291.06,162.32 291.18,161.87 291.30,162.16 291.41,162.13 291.53,162.13 291.65,161.93 291.77,162.27 291.89,161.80 292.00,161.99 292.12,162.08 292.24,162.12 292.36,161.97 292.48,161.82 292.59,161.84 292.71,162.01 292.83,161.86 292.95,162.08 293.07,161.75 293.18,162.12 293.30,162.72 293.42,161.71 293.54,162.08 293.66,162.45 293.77,162.16 293.89,162.36 294.01,161.48 294.13,161.95 294.25,162.56 294.36,161.93 294.48,162.21 294.60,161.52 294.72,162.40 294.84,162.75 294.95,162.06 295.07,162.18 295.19,162.20 295.31,162.71 295.43,161.95 295.54,161.58 295.66,162.63 295.78,161.72 295.90,162.23 296.02,161.37 296.13,161.93 296.25,162.11 296.37,161.73 296.49,161.90 296.61,162.22 296.72,161.84 296.84,162.19 296.96,162.57 297.08,161.44 297.20,162.14 297.31,162.21 297.43,161.93 297.55,162.49 297.67,162.42 297.79,162.17 297.90,162.17 298.02,161.99 298.14,161.68 298.26,162.15 298.38,161.86 298.49,161.83 298.61,162.32 298.73,161.93 298.85,162.27 298.97,161.68 299.08,161.85 299.20,161.98 299.32,162.38 299.44,161.94 299.56,162.20 299.67,161.76 299.79,162.00 299.91,162.20 300.03,161.69 300.15,161.74 300.26,162.13 300.38,161.61 300.50,162.03 300.62,162.03 300.74,161.90 300.85,162.16 300.97,162.06 301.09,161.97 301.21,161.47 301.33,161.48 301.44,161.99 301.56,161.44 301.68,161.92 301.80,161.79 301.92,161.64 302.03,161.81 302.15,161.18 302.27,161.81 302.39,162.24 302.51,161.49 302.62,162.00 302.74,161.96 302.86,162.75 302.98,161.57 303.10,161.61 303.21,161.62 303.33,161.56 303.45,161.34 303.57,161.85 303.69,161.56 303.80,162.05 303.92,161.93 304.04,161.51 304.16,161.70 304.28,162.20 304.39,161.70 304.51,161.85 304.63,162.04 304.75,161.66 304.87,161.90 304.98,162.24 305.10,162.10 305.22,161.25 305.34,162.21 305.46,161.69 305.57,161.57 305.69,161.56 305.81,162.11 305.93,161.83 306.05,161.69 306.16,161.49 306.28,161.91 306.40,162.06" fill="none" stroke="#9933dd" stroke-width="2.2" stroke-linejoin="round" stroke-linecap="round" />
<polyline points="188.40,161.62 188.99,161.59 189.58,161.80 190.17,162.09 190.76,161.79 191.35,161.87 191.94,161.65 192.53,162.26 193.12,161.85 193.71,161.93 194.30,162.20 194.89,161.80 195.48,161.85 196.07,161.97 196.66,161.72 197.25,162.24 197.84,161.83 198.43,161.67 199.02,161.70 199.61,161.45 200.20,162.11 200.79,162.18 201.38,161.65 201.97,161.57 202.56,161.06 203.15,161.49 203.74,161.91 204.33,161.39 204.92,161.86 205.51,162.02 206.10,160.79 206.69,161.44 207.28,161.31 207.87,161.33 208.46,160.93 209.05,161.36 209.64,161.05 210.23,161.69 210.82,161.77 211.41,160.91 212.00,160.86 212.59,161.12 213.18,161.17 213.77,161.16 214.36,161.38 214.95,160.69 215.54,160.91 216.13,160.92 216.72,160.93 217.31,160.69 217.90,160.82 218.49,160.71 219.08,161.24 219.67,160.70 220.26,160.17 220.85,160.93 221.44,160.77 222.03,160.43 222.62,160.37 223.21,160.43 223.80,161.05 224.39,160.38 224.98,160.83 225.57,160.68 226.16,160.23 226.75,160.43 227.34,160.06 227.93,159.32 228.52,159.97 229.11,159.94 229.70,160.37 230.29,160.25 230.88,160.32 231.47,160.11 232.06,160.23 232.65,160.05 233.24,159.86 233.83,160.04 234.42,160.10 235.01,159.99 235.60,159.33 236.19,159.31 236.78,158.86 237.37,158.69 237.96,158.92 238.55,158.45 239.14,158.89 239.73,157.61 240.32,157.77 240.91,158.03 241.50,158.16 242.09,157.59 242.68,158.15 243.27,157.76 243.86,157.27 244.45,157.50 245.04,158.04 245.63,158.16 246.22,159.22 246.81,158.97 247.40,158.92 247.99,158.50 248.58,157.55 249.17,157.58 249.76,156.48 250.35,156.98 250.94,156.01 251.53,156.73 252.12,156.08 252.71,156.51 253.30,156.50 253.89,156.06 254.48,155.93 255.07,156.53 255.66,155.84 256.25,156.47 256.84,156.25 257.43,156.23 258.02,156.23 258.61,157.03 259.20,156.17 259.79,156.68 260.38,157.21 260.97,157.64 261.56,158.11 262.15,158.28 262.74,157.97 263.33,158.46 263.92,158.88 264.51,158.87 265.10,158.42 265.69,159.15 266.28,159.39 266.87,158.98 267.46,159.41 268.05,159.69 268.64,160.04 269.23,160.47 269.82,160.50 270.41,160.43 271.00,160.48 271.59,160.43 272.18,160.48 272.77,160.68 273.36,160.77 273.95,161.21 274.54,161.61 275.13,161.18 275.72,161.35 276.31,161.30 276.90,161.23 277.49,161.56 278.08,161.56 278.67,161.30 279.26,161.28 279.85,161.54 280.44,161.24 281.03,161.48 281.62,161.76 282.21,161.48 282.80,160.97 283.39,161.75 283.98,161.24 284.57,161.21 285.16,161.21 285.75,161.92 286.34,161.11 286.93,161.70 287.52,161.84 288.11,161.86 288.70,161.64 289.29,161.83 289.88,161.92 290.47,161.51 291.06,162.13 291.65,162.24 292.24,161.72 292.83,161.77 293.42,161.67 294.01,162.33 294.60,161.71 295.19,161.91 295.78,161.54 296.37,162.45 296.96,162.03 297.55,162.19 298.14,162.59 298.73,162.34 299.32,161.81 299.91,162.29 300.50,162.38 301.09,161.92 301.68,161.89 302.27,161.89 302.86,162.42 303.45,162.21 304.04,161.90 304.63,162.40 305.22,162.43 305.81,161.96 306.40,161.75" fill="none" stroke="#ff2200" stroke-width="2.2" stroke-linejoin="round" stroke-linecap="round" />
<polyline points="188.40,159.74 188.69,160.59 188.99,159.90 189.29,159.63 189.58,159.11 189.88,158.66 190.17,159.10 190.47,159.42 190.76,158.91 191.06,159.56 191.35,159.01 191.65,159.35 191.94,157.38 192.24,158.47 192.53,159.44 192.83,159.53 193.12,159.19 193.42,159.89 193.71,159.34 194.01,159.34 194.30,158.37 194.60,159.14 194.89,159.34 195.19,159.66 195.48,159.55 195.78,158.89 196.07,158.97 196.37,158.16 196.66,159.19 196.96,158.19 197.25,158.65 197.55,158.80 197.84,159.97 198.14,159.54 198.43,158.33 198.73,157.93 199.02,158.62 199.32,158.29 199.61,158.97 199.91,158.94 200.20,159.10 200.50,158.12 200.79,158.48 201.09,158.82 201.38,158.86 201.68,158.33 201.97,158.46 202.27,159.13 202.56,157.61 202.86,158.46 203.15,158.60 203.45,157.72 203.74,157.98 204.04,158.63 204.33,158.25 204.63,159.18 204.92,158.92 205.22,159.87 205.51,157.80 205.81,159.63 206.10,158.10 206.40,158.98 206.69,159.05 206.99,158.58 207.28,158.30 207.58,158.08 207.87,157.39 208.17,158.21 208.46,157.89 208.76,158.75 209.05,157.97 209.35,158.29 209.64,158.64 209.94,158.41 210.23,158.38 210.53,158.22 210.82,158.08 211.12,158.61 211.41,158.73 211.71,157.84 212.00,159.27 212.30,158.63 212.59,157.33 212.89,159.84 213.18,158.64 213.48,157.81 213.77,159.18 214.07,156.66 214.36,159.72 214.66,157.33 214.95,157.25 215.25,157.62 215.54,158.28 215.84,157.93 216.13,158.66 216.43,157.65 216.72,158.78 217.02,158.27 217.31,157.51 217.61,158.75 217.90,158.30 218.20,157.97 218.49,158.86 218.79,157.37 219.08,157.84 219.38,158.93 219.67,158.06 219.97,158.48 220.26,158.40 220.56,157.95 220.85,158.41 221.15,157.41 221.44,158.39 221.74,157.38 222.03,157.98 222.33,157.43 222.62,158.25 222.92,158.21 223.21,158.59 223.51,157.55 223.80,157.33 224.10,156.62 224.39,157.09 224.69,157.69 224.98,157.95 225.28,157.58 225.57,157.82 225.87,156.92 226.16,157.21 226.46,158.25 226.75,158.14 227.05,156.91 227.34,157.52 227.64,157.82 227.93,156.96 228.23,157.87 228.52,157.79 228.82,157.88 229.11,158.74 229.41,157.05 229.70,158.25 230.00,157.85 230.29,157.93 230.59,157.04 230.88,157.48 231.18,157.40 231.47,158.38 231.77,157.41 232.06,158.20 232.36,157.12 232.65,157.05 232.95,157.22 233.24,155.93 233.54,156.73 233.83,156.59 234.13,156.75 234.42,156.83 234.72,156.04 235.01,155.84 235.31,157.13 235.60,155.61 235.90,155.79 236.19,155.38 236.49,155.52 236.78,156.36 237.08,156.14 237.37,154.17 237.67,154.89 237.96,155.66 238.26,154.37 238.55,154.53 238.85,155.13 239.14,155.09 239.44,154.35 239.73,152.81 240.03,152.44 240.32,151.90 240.62,150.84 240.91,149.82 241.21,150.52 241.50,148.51 241.80,147.83 242.09,147.05 242.39,145.61 242.68,144.22 242.98,143.02 243.27,142.31 243.57,140.24 243.86,137.22 244.16,137.46 244.45,136.10 244.75,132.85 245.04,130.55 245.34,128.84 245.63,128.64 245.93,126.98 246.22,127.82 246.52,127.82 246.81,127.14 247.11,125.17 247.40,122.09 247.70,120.81 247.99,122.45 248.29,124.39 248.58,126.74 248.88,126.86 249.17,128.87 249.47,130.20 249.76,130.49 250.06,133.71 250.35,135.11 250.65,136.95 250.94,138.88 251.24,140.28 251.53,140.57 251.83,144.21 252.12,143.47 252.42,143.84 252.71,146.32 253.01,147.40 253.30,147.94 253.60,148.17 253.89,150.78 254.19,150.81 254.48,151.70 254.78,151.96 255.07,152.87 255.37,153.22 255.66,154.48 255.96,154.82 256.25,155.85 256.55,156.45 256.84,156.79 257.14,157.44 257.43,158.64 257.73,157.51 258.02,158.84 258.32,159.80 258.61,158.54 258.91,159.82 259.20,159.25 259.50,159.72 259.79,159.69 260.09,159.86 260.38,160.40 260.68,160.11 260.97,159.00 261.27,161.56 261.56,160.22 261.86,160.02 262.15,160.92 262.45,161.13 262.74,159.06 263.04,160.58 263.33,159.15 263.63,160.07 263.92,160.36 264.22,160.14 264.51,160.05 264.81,159.74 265.10,160.19 265.40,160.38 265.69,160.37 265.99,159.68 266.28,160.01 266.58,161.09 266.87,160.88 267.17,160.32 267.46,160.89 267.76,160.75 268.05,161.10 268.35,160.70 268.64,160.30 268.94,159.96 269.23,160.55 269.53,159.34 269.82,160.62 270.12,158.69 270.41,159.99 270.71,160.29 271.00,160.89 271.30,162.27 271.59,160.70 271.89,160.51 272.18,159.49 272.48,161.45 272.77,159.51 273.07,160.80 273.36,160.23 273.66,162.17 273.95,160.60 274.25,160.89 274.54,160.30 274.84,160.66 275.13,161.41 275.43,160.19 275.72,160.36 276.02,160.43 276.31,160.21 276.61,160.18 276.90,160.87 277.20,161.68 277.49,161.72 277.79,160.14 278.08,160.54 278.38,160.93 278.67,161.28 278.97,161.04 279.26,161.07 279.56,161.32 279.85,161.56 280.15,159.90 280.44,161.08 280.74,161.60 281.03,162.04 281.33,161.73 281.62,160.91 281.92,160.92 282.21,161.52 282.51,161.39 282.80,161.63 283.10,162.13 283.39,160.73 283.69,161.30 283.98,160.07 284.28,162.00 284.57,161.65 284.87,161.06 285.16,161.74 285.46,162.42 285.75,162.17 286.05,161.56 286.34,161.41 286.64,161.67 286.93,161.02 287.23,161.03 287.52,161.42 287.82,161.59 288.11,161.75 288.41,161.27 288.70,161.05 289.00,161.55 289.29,161.32 289.59,161.77 289.88,162.40 290.18,162.15 290.47,161.10 290.77,161.28 291.06,160.59 291.36,161.49 291.65,161.00 291.95,160.72 292.24,160.90 292.54,161.84 292.83,161.57 293.13,161.38 293.42,162.02 293.72,161.15 294.01,160.81 294.31,161.69 294.60,160.22 294.90,161.55 295.19,161.48 295.49,161.49 295.78,161.75 296.08,161.08 296.37,161.30 296.67,160.31 296.96,160.92 297.26,160.95 297.55,161.39 297.85,162.08 298.14,161.28 298.44,161.72 298.73,160.64 299.03,161.21 299.32,160.20 299.62,160.73 299.91,160.66 300.21,161.01 300.50,161.01 300.80,160.74 301.09,160.57 301.39,161.52 301.68,160.80 301.98,159.54 302.27,161.13 302.57,161.22 302.86,161.47 303.16,161.91 303.45,160.35 303.75,161.01 304.04,160.86 304.34,159.95 304.63,159.55 304.93,161.56 305.22,160.41 305.52,160.66 305.81,160.79 306.11,160.74 306.40,161.04" fill="none" stroke="#0033ff" stroke-width="2.2" stroke-linejoin="round" stroke-linecap="round" />
<polyline points="346.80,161.50 347.10,161.69 347.39,161.75 347.69,161.57 347.98,161.63 348.28,161.72 348.57,161.74 348.87,161.46 349.16,161.70 349.46,161.82 349.75,161.96 350.05,161.86 350.34,161.99 350.64,161.76 350.93,161.73 351.23,162.18 351.52,161.76 351.82,161.63 352.11,161.72 352.41,161.94 352.70,161.49 353.00,161.87 353.29,161.97 353.59,161.93 353.88,161.72 354.18,161.51 354.47,161.47 354.77,161.65 355.06,161.91 355.36,161.80 355.65,161.83 355.95,161.68 356.24,161.99 356.54,161.60 356.83,161.49 357.13,161.63 357.42,161.50 357.72,161.77 358.01,161.86 358.31,161.68 358.60,161.32 358.90,161.33 359.19,161.61 359.49,161.27 359.78,161.55 360.08,161.18 360.37,161.37 360.67,161.54 360.96,161.28 361.26,161.57 361.55,161.59 361.85,161.67 362.14,161.32 362.44,161.37 362.73,161.35 363.03,161.40 363.32,161.02 363.62,161.37 363.91,161.41 364.21,161.01 364.50,160.96 364.80,161.15 365.09,161.54 365.39,161.30 365.68,161.04 365.98,161.14 366.27,160.82 366.57,161.38 366.86,160.95 367.16,161.19 367.45,160.79 367.75,161.04 368.04,160.81 368.34,161.12 368.63,161.25 368.93,161.17 369.22,161.05 369.52,161.11 369.81,160.65 370.11,160.60 370.40,160.79 370.70,161.02 370.99,160.82 371.29,160.91 371.58,160.47 371.88,160.67 372.17,160.61 372.47,160.77 372.76,161.06 373.06,160.79 373.35,160.84 373.65,160.52 373.94,160.55 374.24,160.71 374.53,160.60 374.83,160.19 375.12,160.67 375.42,160.64 375.71,160.48 376.01,160.54 376.30,160.47 376.60,160.25 376.89,159.99 377.19,160.66 377.48,160.29 377.78,160.25 378.07,160.25 378.37,160.25 378.66,160.25 378.96,159.96 379.25,160.22 379.55,160.12 379.84,160.06 380.14,160.01 380.43,160.03 380.73,159.76 381.02,159.93 381.32,159.85 381.61,159.86 381.91,160.01 382.20,159.93 382.50,159.93 382.79,159.64 383.09,159.78 383.38,159.80 383.68,159.50 383.97,159.39 384.27,159.79 384.56,159.06 384.86,159.34 385.15,159.31 385.45,159.03 385.74,159.17 386.04,159.24 386.33,158.63 386.63,159.22 386.92,158.97 387.22,158.72 387.51,159.03 387.81,158.78 388.10,158.62 388.40,158.15 388.69,158.73 388.99,158.50 389.28,158.29 389.58,158.33 389.87,158.51 390.17,158.12 390.46,158.10 390.76,157.96 391.05,157.74 391.35,157.67 391.64,157.69 391.94,157.60 392.23,157.77 392.53,157.46 392.82,157.27 393.12,157.26 393.41,157.03 393.71,157.08 394.00,156.47 394.30,156.21 394.59,156.56 394.89,156.25 395.18,156.23 395.48,155.78 395.77,155.78 396.07,155.69 396.36,155.59 396.66,155.35 396.95,155.38 397.25,154.82 397.54,154.86 397.84,154.35 398.13,154.16 398.43,153.70 398.72,153.64 399.02,153.16 399.31,153.28 399.61,152.72 399.90,152.65 400.20,152.35 400.49,152.18 400.79,151.85 401.08,152.31 401.38,151.76 401.67,152.08 401.97,151.57 402.26,152.40 402.56,152.55 402.85,153.14 403.15,153.04 403.44,154.25 403.74,155.31 404.03,157.44 404.33,159.85 404.62,161.40 404.92,162.21 405.21,162.57 405.51,162.48 405.80,162.84 406.10,162.84 406.39,162.96 406.69,162.83 406.98,162.41 407.28,162.47 407.57,162.16 407.87,161.88 408.16,161.42 408.46,160.47 408.75,160.46 409.05,159.78 409.34,158.76 409.64,157.84 409.93,156.32 410.23,156.13 410.52,154.63 410.82,153.77 411.11,153.57 411.41,153.07 411.70,152.45 412.00,151.84 412.29,151.98 412.59,151.77 412.88,150.96 413.18,150.58 413.47,150.71 413.77,150.90 414.06,150.03 414.36,150.27 414.65,149.98 414.95,150.22 415.24,150.33 415.54,150.40 415.83,150.10 416.13,150.21 416.42,151.02 416.72,150.91 417.01,150.51 417.31,151.07 417.60,151.41 417.90,151.29 418.19,151.45 418.49,151.60 418.78,151.81 419.08,151.91 419.37,152.06 419.67,152.01 419.96,152.33 420.26,152.31 420.55,152.37 420.85,152.17 421.14,152.44 421.44,152.61 421.73,152.57 422.03,152.68 422.32,152.62 422.62,152.82 422.91,152.65 423.21,152.81 423.50,153.17 423.80,153.32 424.09,153.14 424.39,153.29 424.68,153.49 424.98,153.83 425.27,153.98 425.57,153.63 425.86,153.62 426.16,153.68 426.45,154.17 426.75,153.78 427.04,154.17 427.34,154.05 427.63,154.12 427.93,154.43 428.22,154.46 428.52,154.82 428.81,154.66 429.11,154.90 429.40,154.53 429.70,154.67 429.99,154.57 430.29,154.74 430.58,155.00 430.88,154.87 431.17,155.08 431.47,154.95 431.76,155.07 432.06,155.38 432.35,155.25 432.65,155.30 432.94,155.43 433.24,155.25 433.53,155.15 433.83,155.62 434.12,155.67 434.42,156.10 434.71,155.74 435.01,155.86 435.30,156.25 435.60,155.82 435.89,155.82 436.19,156.13 436.48,156.11 436.78,156.28 437.07,155.99 437.37,156.49 437.66,156.30 437.96,155.90 438.25,156.33 438.55,156.29 438.84,156.46 439.14,156.71 439.43,156.53 439.73,156.49 440.02,156.81 440.32,156.59 440.61,156.45 440.91,156.53 441.20,157.09 441.50,157.02 441.79,157.18 442.09,156.70 442.38,156.83 442.68,156.85 442.97,157.21 443.27,157.30 443.56,157.10 443.86,157.14 444.15,157.37 444.45,157.21 444.74,157.15 445.04,157.27 445.33,157.56 445.63,157.81 445.92,157.49 446.22,157.45 446.51,157.57 446.81,157.64 447.10,157.73 447.40,157.49 447.69,157.68 447.99,157.69 448.28,157.94 448.58,157.91 448.87,157.79 449.17,158.06 449.46,158.14 449.76,158.00 450.05,157.73 450.35,157.97 450.64,157.75 450.94,158.10 451.23,158.17 451.53,158.42 451.82,158.29 452.12,157.93 452.41,158.18 452.71,158.13 453.00,158.17 453.30,158.34 453.59,158.41 453.89,158.38 454.18,158.31 454.48,158.38 454.77,158.40 455.07,158.50 455.36,158.71 455.66,158.64 455.95,158.80 456.25,158.45 456.54,159.09 456.84,158.74 457.13,158.26 457.43,158.82 457.72,159.00 458.02,158.81 458.31,158.58 458.61,158.89 458.90,158.76 459.20,158.88 459.49,159.00 459.79,158.33 460.08,158.96 460.38,159.10 460.67,159.11 460.97,158.96 461.26,158.98 461.56,158.92 461.85,159.07 462.15,159.40 462.44,159.03 462.74,159.21 463.03,159.22 463.33,159.47 463.62,159.31 463.92,159.36 464.21,159.24 464.51,159.53 464.80,159.25" fill="none" stroke="#ff9d00" stroke-width="2.2" stroke-linejoin="round" stroke-linecap="round" />
<polyline points="346.80,157.25 347.10,157.62 347.39,157.47 347.69,157.54 347.98,157.02 348.28,158.03 348.57,157.38 348.87,157.77 349.16,157.40 349.46,157.02 349.75,157.46 350.05,157.23 350.34,157.51 350.64,156.69 350.93,156.98 351.23,156.92 351.52,157.64 351.82,157.56 352.11,156.91 352.41,157.28 352.70,157.30 353.00,157.11 353.29,157.58 353.59,156.97 353.88,157.19 354.18,157.04 354.47,157.37 354.77,157.01 355.06,157.37 355.36,156.87 355.65,156.80 355.95,156.86 356.24,156.97 356.54,156.92 356.83,157.90 357.13,156.84 357.42,157.16 357.72,157.04 358.01,157.14 358.31,157.45 358.60,157.19 358.90,156.82 359.19,156.58 359.49,157.17 359.78,157.24 360.08,156.53 360.37,157.21 360.67,156.32 360.96,156.90 361.26,157.16 361.55,156.60 361.85,156.37 362.14,157.28 362.44,156.38 362.73,156.91 363.03,156.37 363.32,156.91 363.62,157.24 363.91,156.61 364.21,156.47 364.50,156.11 364.80,156.20 365.09,156.48 365.39,156.74 365.68,156.81 365.98,156.72 366.27,156.86 366.57,156.68 366.86,157.33 367.16,156.51 367.45,156.55 367.75,155.76 368.04,156.27 368.34,156.62 368.63,156.29 368.93,156.80 369.22,156.59 369.52,156.95 369.81,155.95 370.11,156.18 370.40,156.68 370.70,156.33 370.99,156.01 371.29,156.12 371.58,156.13 371.88,156.47 372.17,156.39 372.47,156.15 372.76,155.88 373.06,156.37 373.35,156.44 373.65,155.74 373.94,156.33 374.24,155.71 374.53,155.94 374.83,155.72 375.12,155.44 375.42,155.72 375.71,155.66 376.01,156.12 376.30,156.01 376.60,155.58 376.89,155.27 377.19,155.26 377.48,154.94 377.78,155.48 378.07,155.46 378.37,155.16 378.66,155.40 378.96,155.36 379.25,155.59 379.55,154.93 379.84,155.47 380.14,154.94 380.43,155.45 380.73,154.64 381.02,155.20 381.32,154.58 381.61,155.23 381.91,154.82 382.20,154.27 382.50,154.79 382.79,154.46 383.09,154.56 383.38,155.03 383.68,154.19 383.97,154.08 384.27,154.47 384.56,153.90 384.86,154.24 385.15,154.24 385.45,153.88 385.74,154.02 386.04,153.08 386.33,154.16 386.63,153.43 386.92,153.30 387.22,154.13 387.51,154.00 387.81,153.27 388.10,153.53 388.40,153.22 388.69,152.94 388.99,153.34 389.28,153.48 389.58,153.91 389.87,152.99 390.17,153.26 390.46,152.82 390.76,152.77 391.05,153.17 391.35,152.18 391.64,152.28 391.94,152.26 392.23,152.76 392.53,152.43 392.82,152.36 393.12,152.21 393.41,152.29 393.71,151.70 394.00,151.62 394.30,151.43 394.59,151.50 394.89,150.73 395.18,150.77 395.48,151.28 395.77,150.22 396.07,149.52 396.36,148.58 396.66,147.34 396.95,144.23 397.25,141.87 397.54,139.50 397.84,138.02 398.13,136.34 398.43,134.67 398.72,132.52 399.02,131.12 399.31,129.87 399.61,127.63 399.90,126.39 400.20,124.30 400.49,122.26 400.79,119.64 401.08,116.47 401.38,112.76 401.67,107.88 401.97,103.30 402.26,97.77 402.56,94.12 402.85,90.05 403.15,86.74 403.44,83.55 403.74,79.02 404.03,76.33 404.33,73.68 404.62,71.66 404.92,69.81 405.21,68.21 405.51,67.26 405.80,64.97 406.10,64.05 406.39,62.74 406.69,60.94 406.98,60.18 407.28,59.72 407.57,59.52 407.87,58.49 408.16,58.16 408.46,58.44 408.75,59.47 409.05,60.53 409.34,62.25 409.64,63.68 409.93,65.52 410.23,67.53 410.52,70.35 410.82,73.08 411.11,76.54 411.41,80.71 411.70,84.58 412.00,87.78 412.29,91.90 412.59,94.74 412.88,97.81 413.18,100.31 413.47,103.41 413.77,105.42 414.06,107.51 414.36,109.60 414.65,112.14 414.95,114.47 415.24,116.74 415.54,118.90 415.83,120.62 416.13,122.11 416.42,124.11 416.72,125.06 417.01,126.95 417.31,128.45 417.60,129.42 417.90,130.76 418.19,131.77 418.49,132.07 418.78,133.46 419.08,134.29 419.37,134.92 419.67,135.77 419.96,137.14 420.26,137.41 420.55,138.48 420.85,139.37 421.14,139.99 421.44,141.28 421.73,141.83 422.03,142.37 422.32,142.90 422.62,143.94 422.91,144.60 423.21,145.01 423.50,145.60 423.80,146.49 424.09,147.04 424.39,148.20 424.68,148.82 424.98,149.26 425.27,150.03 425.57,150.65 425.86,150.54 426.16,151.58 426.45,152.26 426.75,152.24 427.04,152.20 427.34,153.03 427.63,152.95 427.93,153.64 428.22,153.82 428.52,154.04 428.81,154.03 429.11,153.59 429.40,154.62 429.70,153.93 429.99,154.85 430.29,154.75 430.58,154.56 430.88,154.74 431.17,154.96 431.47,155.64 431.76,155.16 432.06,155.67 432.35,154.72 432.65,155.64 432.94,155.61 433.24,156.10 433.53,155.99 433.83,156.31 434.12,155.73 434.42,156.17 434.71,156.01 435.01,156.45 435.30,156.46 435.60,156.01 435.89,156.74 436.19,157.05 436.48,156.46 436.78,156.98 437.07,156.83 437.37,156.49 437.66,157.05 437.96,156.60 438.25,157.12 438.55,156.52 438.84,156.62 439.14,157.20 439.43,157.17 439.73,157.40 440.02,157.14 440.32,156.90 440.61,157.72 440.91,157.06 441.20,157.77 441.50,157.67 441.79,157.99 442.09,156.88 442.38,157.53 442.68,157.52 442.97,157.83 443.27,157.36 443.56,158.34 443.86,157.75 444.15,157.14 444.45,157.95 444.74,157.87 445.04,157.72 445.33,158.20 445.63,157.99 445.92,157.75 446.22,158.01 446.51,158.00 446.81,158.25 447.10,158.09 447.40,158.20 447.69,157.82 447.99,158.07 448.28,158.39 448.58,159.07 448.87,158.17 449.17,158.19 449.46,158.71 449.76,159.06 450.05,158.84 450.35,158.25 450.64,158.87 450.94,158.71 451.23,158.54 451.53,158.27 451.82,158.66 452.12,158.70 452.41,158.85 452.71,158.23 453.00,158.42 453.30,158.78 453.59,159.18 453.89,159.01 454.18,158.62 454.48,159.02 454.77,158.55 455.07,158.72 455.36,158.75 455.66,158.65 455.95,158.70 456.25,159.11 456.54,158.96 456.84,158.17 457.13,159.22 457.43,159.00 457.72,158.53 458.02,158.88 458.31,159.05 458.61,159.17 458.90,158.59 459.20,158.40 459.49,158.24 459.79,158.59 460.08,158.24 460.38,158.80 460.67,158.38 460.97,158.56 461.26,158.24 461.56,158.00 461.85,157.83 462.15,158.36 462.44,157.61 462.74,158.04 463.03,158.12 463.33,157.78 463.62,158.07 463.92,157.55 464.21,157.38 464.51,157.44 464.80,157.13" fill="none" stroke="#00ee00" stroke-width="2.2" stroke-linejoin="round" stroke-linecap="round" />
<polyline points="346.80,159.05 346.92,158.96 347.04,159.38 347.15,158.94 347.27,159.20 347.39,159.08 347.51,158.98 347.63,158.89 347.74,159.43 347.86,159.40 347.98,159.03 348.10,158.80 348.22,158.83 348.33,158.67 348.45,158.54 348.57,158.78 348.69,158.93 348.81,159.22 348.92,159.19 349.04,159.05 349.16,158.83 349.28,158.84 349.40,158.90 349.51,158.94 349.63,158.71 349.75,158.83 349.87,158.80 349.99,158.79 350.10,159.04 350.22,159.18 350.34,158.73 350.46,158.75 350.58,158.93 350.69,158.99 350.81,158.19 350.93,159.08 351.05,158.91 351.17,158.77 351.28,159.18 351.40,158.80 351.52,158.30 351.64,158.55 351.76,158.64 351.87,158.65 351.99,158.78 352.11,158.53 352.23,158.85 352.35,158.93 352.46,158.77 352.58,158.53 352.70,158.69 352.82,158.58 352.94,159.38 353.05,158.42 353.17,158.08 353.29,158.37 353.41,158.85 353.53,159.00 353.64,158.67 353.76,159.03 353.88,158.52 354.00,158.89 354.12,158.44 354.23,158.32 354.35,159.32 354.47,158.62 354.59,158.91 354.71,159.11 354.82,158.88 354.94,158.75 355.06,158.38 355.18,159.12 355.30,158.36 355.41,158.07 355.53,158.48 355.65,158.49 355.77,158.65 355.89,158.99 356.00,158.48 356.12,158.51 356.24,158.41 356.36,157.86 356.48,158.39 356.59,158.48 356.71,158.13 356.83,158.99 356.95,158.92 357.07,158.69 357.18,158.76 357.30,158.36 357.42,158.65 357.54,158.04 357.66,158.09 357.77,158.31 357.89,158.64 358.01,158.34 358.13,158.28 358.25,158.82 358.36,158.40 358.48,158.29 358.60,158.42 358.72,158.02 358.84,158.12 358.95,158.71 359.07,158.42 359.19,158.70 359.31,158.27 359.43,158.69 359.54,158.16 359.66,158.31 359.78,158.13 359.90,158.45 360.02,158.83 360.13,157.87 360.25,158.44 360.37,157.97 360.49,158.24 360.61,158.16 360.72,157.82 360.84,158.25 360.96,157.93 361.08,158.77 361.20,158.07 361.31,158.39 361.43,158.35 361.55,158.30 361.67,158.19 361.79,157.80 361.90,158.82 362.02,158.26 362.14,158.47 362.26,157.91 362.38,158.37 362.49,158.10 362.61,158.35 362.73,158.02 362.85,157.91 362.97,158.32 363.08,158.18 363.20,158.61 363.32,158.09 363.44,157.92 363.56,158.33 363.67,157.82 363.79,158.76 363.91,158.68 364.03,158.54 364.15,158.26 364.26,158.10 364.38,158.12 364.50,158.11 364.62,157.87 364.74,158.21 364.85,158.44 364.97,158.43 365.09,157.43 365.21,158.73 365.33,158.08 365.44,157.59 365.56,157.87 365.68,158.25 365.80,158.00 365.92,157.73 366.03,157.62 366.15,158.23 366.27,157.74 366.39,157.88 366.51,157.62 366.62,157.52 366.74,158.03 366.86,158.34 366.98,157.79 367.10,157.37 367.21,157.68 367.33,157.81 367.45,157.16 367.57,158.17 367.69,157.58 367.80,158.01 367.92,157.82 368.04,157.80 368.16,157.37 368.28,158.08 368.39,157.95 368.51,158.26 368.63,157.63 368.75,157.90 368.87,157.63 368.98,158.06 369.10,157.84 369.22,157.42 369.34,157.77 369.46,157.52 369.57,157.54 369.69,157.79 369.81,158.14 369.93,157.38 370.05,157.61 370.16,157.36 370.28,158.24 370.40,158.12 370.52,158.26 370.64,157.87 370.75,157.30 370.87,157.43 370.99,157.59 371.11,157.54 371.23,157.34 371.34,157.64 371.46,157.43 371.58,157.49 371.70,158.17 371.82,157.63 371.93,157.10 372.05,157.61 372.17,157.53 372.29,157.66 372.41,157.61 372.52,157.12 372.64,157.53 372.76,157.74 372.88,158.35 373.00,157.59 373.11,157.99 373.23,157.94 373.35,157.15 373.47,157.17 373.59,157.93 373.70,157.11 373.82,157.21 373.94,157.57 374.06,157.11 374.18,157.80 374.29,157.66 374.41,157.72 374.53,157.62 374.65,157.02 374.77,157.66 374.88,157.60 375.00,157.53 375.12,157.18 375.24,157.32 375.36,156.96 375.47,157.41 375.59,157.57 375.71,157.33 375.83,157.16 375.95,157.43 376.06,157.06 376.18,156.60 376.30,157.29 376.42,157.09 376.54,156.70 376.65,157.27 376.77,157.32 376.89,157.38 377.01,156.93 377.13,156.88 377.24,157.06 377.36,156.99 377.48,156.61 377.60,156.72 377.72,157.38 377.83,156.95 377.95,156.90 378.07,156.71 378.19,156.97 378.31,157.08 378.42,157.01 378.54,157.39 378.66,156.86 378.78,157.01 378.90,156.68 379.01,157.11 379.13,156.92 379.25,157.07 379.37,157.08 379.49,156.54 379.60,156.87 379.72,156.59 379.84,157.03 379.96,156.66 380.08,157.17 380.19,156.80 380.31,156.79 380.43,156.45 380.55,156.56 380.67,156.65 380.78,156.33 380.90,156.51 381.02,156.39 381.14,156.31 381.26,156.54 381.37,156.59 381.49,156.39 381.61,156.59 381.73,156.34 381.85,156.11 381.96,156.17 382.08,156.52 382.20,156.77 382.32,156.39 382.44,156.40 382.55,156.02 382.67,156.44 382.79,156.38 382.91,156.08 383.03,156.43 383.14,156.32 383.26,155.75 383.38,155.80 383.50,156.04 383.62,156.13 383.73,156.48 383.85,156.02 383.97,156.15 384.09,156.09 384.21,156.29 384.32,156.13 384.44,156.16 384.56,156.00 384.68,155.66 384.80,155.96 384.91,156.54 385.03,156.32 385.15,156.49 385.27,156.24 385.39,155.83 385.50,155.87 385.62,156.15 385.74,155.88 385.86,156.17 385.98,156.35 386.09,156.34 386.21,156.17 386.33,155.48 386.45,156.29 386.57,155.51 386.68,155.48 386.80,155.91 386.92,155.87 387.04,156.02 387.16,155.84 387.27,155.63 387.39,155.81 387.51,155.51 387.63,155.45 387.75,155.69 387.86,155.68 387.98,155.79 388.10,155.66 388.22,156.08 388.34,155.62 388.45,155.67 388.57,155.98 388.69,155.08 388.81,155.99 388.93,155.95 389.04,155.61 389.16,156.25 389.28,155.90 389.40,156.11 389.52,155.93 389.63,155.68 389.75,155.53 389.87,155.29 389.99,155.37 390.11,155.25 390.22,155.41 390.34,155.71 390.46,155.23 390.58,155.69 390.70,155.72 390.81,155.07 390.93,155.28 391.05,155.43 391.17,155.26 391.29,155.21 391.40,155.86 391.52,155.47 391.64,155.77 391.76,155.37 391.88,155.59 391.99,154.98 392.11,155.21 392.23,155.58 392.35,155.33 392.47,155.66 392.58,155.27 392.70,155.10 392.82,155.17 392.94,155.79 393.06,155.30 393.17,155.03 393.29,155.06 393.41,154.79 393.53,155.49 393.65,154.93 393.76,155.25 393.88,154.97 394.00,154.88 394.12,154.76 394.24,155.09 394.35,154.82 394.47,155.16 394.59,155.18 394.71,154.53 394.83,154.65 394.94,155.04 395.06,154.73 395.18,154.39 395.30,153.85 395.42,153.90 395.53,153.88 395.65,154.53 395.77,153.92 395.89,153.64 396.01,153.54 396.12,153.41 396.24,153.46 396.36,152.74 396.48,152.68 396.60,152.99 396.71,153.09 396.83,152.03 396.95,152.63 397.07,151.94 397.19,151.50 397.30,152.05 397.42,151.36 397.54,151.17 397.66,150.49 397.78,150.09 397.89,149.11 398.01,148.98 398.13,148.60 398.25,147.68 398.37,147.49 398.48,146.89 398.60,145.49 398.72,145.74 398.84,144.90 398.96,143.85 399.07,143.18 399.19,142.41 399.31,140.35 399.43,139.77 399.55,138.59 399.66,137.51 399.78,136.75 399.90,135.97 400.02,134.91 400.14,133.61 400.25,133.51 400.37,132.94 400.49,133.08 400.61,132.14 400.73,131.99 400.84,130.94 400.96,130.76 401.08,130.20 401.20,129.74 401.32,129.37 401.43,129.11 401.55,127.91 401.67,127.88 401.79,127.15 401.91,126.11 402.02,125.31 402.14,123.99 402.26,122.65 402.38,121.70 402.50,120.52 402.61,119.39 402.73,118.00 402.85,117.73 402.97,116.11 403.09,115.66 403.20,115.08 403.32,114.25 403.44,114.12 403.56,113.72 403.68,113.46 403.79,114.37 403.91,113.61 404.03,112.93 404.15,113.17 404.27,112.92 404.38,113.25 404.50,113.65 404.62,113.50 404.74,112.92 404.86,112.81 404.97,113.28 405.09,113.12 405.21,112.95 405.33,113.54 405.45,116.82 405.56,124.36 405.68,132.31 405.80,136.67 405.92,129.82 406.04,118.56 406.15,111.30 406.27,110.23 406.39,108.02 406.51,107.36 406.63,105.71 406.74,105.66 406.86,105.25 406.98,105.58 407.10,104.51 407.22,105.11 407.33,105.20 407.45,106.04 407.57,105.43 407.69,105.80 407.81,106.72 407.92,107.01 408.04,107.46 408.16,107.88 408.28,108.74 408.40,108.88 408.51,110.10 408.63,110.84 408.75,111.43 408.87,112.65 408.99,112.73 409.10,112.74 409.22,113.47 409.34,114.25 409.46,114.33 409.58,115.46 409.69,115.37 409.81,115.55 409.93,115.92 410.05,116.77 410.17,116.69 410.28,116.82 410.40,117.90 410.52,117.96 410.64,119.04 410.76,119.56 410.87,119.20 410.99,119.76 411.11,120.10 411.23,120.72 411.35,121.02 411.46,121.07 411.58,121.18 411.70,122.13 411.82,122.92 411.94,122.43 412.05,122.99 412.17,123.33 412.29,123.83 412.41,123.55 412.53,124.57 412.64,124.78 412.76,125.83 412.88,125.79 413.00,126.16 413.12,126.29 413.23,126.50 413.35,127.15 413.47,126.73 413.59,127.86 413.71,127.99 413.82,128.09 413.94,128.82 414.06,128.58 414.18,128.85 414.30,129.41 414.41,129.05 414.53,129.87 414.65,130.09 414.77,130.73 414.89,131.22 415.00,131.18 415.12,131.36 415.24,131.67 415.36,131.58 415.48,132.78 415.59,132.68 415.71,133.15 415.83,132.49 415.95,133.32 416.07,133.57 416.18,134.01 416.30,133.69 416.42,134.35 416.54,134.43 416.66,135.37 416.77,134.70 416.89,135.21 417.01,135.44 417.13,135.52 417.25,136.23 417.36,136.51 417.48,136.54 417.60,136.92 417.72,137.41 417.84,137.63 417.95,138.10 418.07,138.05 418.19,138.30 418.31,138.89 418.43,138.66 418.54,140.00 418.66,139.95 418.78,139.72 418.90,140.70 419.02,141.42 419.13,140.94 419.25,141.64 419.37,142.63 419.49,142.54 419.61,143.57 419.72,144.18 419.84,144.35 419.96,144.96 420.08,145.64 420.20,145.91 420.31,146.56 420.43,146.68 420.55,147.10 420.67,147.23 420.79,147.90 420.90,148.41 421.02,148.61 421.14,148.42 421.26,147.99 421.38,148.28 421.49,148.81 421.61,148.43 421.73,149.13 421.85,148.57 421.97,149.06 422.08,148.79 422.20,148.90 422.32,149.24 422.44,149.13 422.56,149.60 422.67,149.37 422.79,149.09 422.91,148.25 423.03,149.31 423.15,149.55 423.26,149.92 423.38,149.36 423.50,150.21 423.62,150.01 423.74,149.71 423.85,150.21 423.97,149.44 424.09,149.61 424.21,150.14 424.33,150.18 424.44,150.44 424.56,150.50 424.68,149.99 424.80,149.97 424.92,150.08 425.03,150.14 425.15,150.42 425.27,150.17 425.39,150.75 425.51,150.34 425.62,149.93 425.74,150.01 425.86,150.57 425.98,150.56 426.10,150.08 426.21,149.99 426.33,150.99 426.45,150.70 426.57,150.54 426.69,150.28 426.80,150.92 426.92,150.51 427.04,150.82 427.16,150.06 427.28,150.67 427.39,150.87 427.51,150.97 427.63,150.59 427.75,150.74 427.87,151.30 427.98,150.95 428.10,151.45 428.22,151.31 428.34,151.51 428.46,151.56 428.57,151.40 428.69,151.53 428.81,151.12 428.93,151.08 429.05,151.42 429.16,151.72 429.28,151.18 429.40,152.06 429.52,152.07 429.64,151.32 429.75,151.37 429.87,151.32 429.99,151.70 430.11,152.05 430.23,151.86 430.34,151.58 430.46,152.01 430.58,152.03 430.70,152.27 430.82,152.24 430.93,151.68 431.05,151.83 431.17,152.34 431.29,152.35 431.41,152.24 431.52,151.94 431.64,152.48 431.76,152.22 431.88,152.84 432.00,152.61 432.11,152.15 432.23,152.04 432.35,152.69 432.47,152.61 432.59,152.18 432.70,152.56 432.82,152.64 432.94,152.36 433.06,152.49 433.18,152.25 433.29,152.38 433.41,152.81 433.53,152.71 433.65,152.73 433.77,153.14 433.88,153.06 434.00,152.52 434.12,153.31 434.24,152.57 434.36,152.81 434.47,152.97 434.59,152.80 434.71,152.85 434.83,152.66 434.95,153.17 435.06,153.15 435.18,153.18 435.30,152.58 435.42,152.89 435.54,153.47 435.65,153.32 435.77,153.46 435.89,153.28 436.01,153.24 436.13,152.66 436.24,153.90 436.36,153.08 436.48,153.29 436.60,153.65 436.72,153.51 436.83,153.64 436.95,153.50 437.07,153.25 437.19,154.02 437.31,153.21 437.42,153.73 437.54,153.20 437.66,153.54 437.78,153.32 437.90,153.55 438.01,153.41 438.13,153.74 438.25,154.03 438.37,153.60 438.49,153.61 438.60,153.22 438.72,154.46 438.84,153.94 438.96,153.59 439.08,154.30 439.19,154.01 439.31,153.34 439.43,153.56 439.55,154.26 439.67,153.60 439.78,153.69 439.90,153.82 440.02,153.96 440.14,154.02 440.26,154.36 440.37,154.27 440.49,153.92 440.61,154.11 440.73,153.62 440.85,154.28 440.96,154.90 441.08,154.31 441.20,154.14 441.32,154.12 441.44,154.23 441.55,154.51 441.67,153.84 441.79,154.49 441.91,154.10 442.03,154.41 442.14,154.69 442.26,153.93 442.38,155.11 442.50,154.63 442.62,154.27 442.73,154.51 442.85,154.20 442.97,154.47 443.09,154.58 443.21,153.83 443.32,154.54 443.44,154.54 443.56,154.83 443.68,154.74 443.80,154.34 443.91,154.38 444.03,154.56 444.15,154.78 444.27,154.39 444.39,155.11 444.50,154.72 444.62,154.71 444.74,154.89 444.86,154.61 444.98,154.87 445.09,154.92 445.21,154.17 445.33,154.49 445.45,154.37 445.57,154.72 445.68,154.47 445.80,154.53 445.92,154.42 446.04,154.09 446.16,154.87 446.27,154.74 446.39,154.84 446.51,155.88 446.63,155.27 446.75,154.86 446.86,154.69 446.98,155.06 447.10,154.57 447.22,154.54 447.34,155.05 447.45,154.52 447.57,154.44 447.69,154.83 447.81,155.27 447.93,154.56 448.04,155.05 448.16,155.13 448.28,155.00 448.40,155.20 448.52,154.74 448.63,154.84 448.75,154.72 448.87,154.92 448.99,155.34 449.11,155.16 449.22,154.87 449.34,155.26 449.46,154.29 449.58,155.23 449.70,155.35 449.81,154.85 449.93,154.98 450.05,155.22 450.17,155.29 450.29,155.11 450.40,155.00 450.52,155.03 450.64,155.35 450.76,155.15 450.88,155.04 450.99,155.07 451.11,156.22 451.23,155.58 451.35,155.56 451.47,155.41 451.58,155.30 451.70,155.09 451.82,155.19 451.94,155.42 452.06,155.39 452.17,154.89 452.29,155.60 452.41,155.34 452.53,154.97 452.65,155.34 452.76,156.06 452.88,155.36 453.00,155.59 453.12,155.52 453.24,155.19 453.35,155.37 453.47,155.59 453.59,155.26 453.71,155.40 453.83,155.51 453.94,155.46 454.06,155.49 454.18,155.67 454.30,155.71 454.42,155.58 454.53,155.88 454.65,155.98 454.77,155.23 454.89,155.69 455.01,155.64 455.12,155.68 455.24,155.64 455.36,155.65 455.48,155.65 455.60,155.91 455.71,155.41 455.83,155.89 455.95,155.39 456.07,156.27 456.19,156.03 456.30,155.43 456.42,155.77 456.54,155.93 456.66,155.63 456.78,156.06 456.89,155.73 457.01,156.42 457.13,155.90 457.25,155.97 457.37,155.63 457.48,155.53 457.60,156.05 457.72,155.33 457.84,155.99 457.96,156.42 458.07,156.53 458.19,155.38 458.31,155.86 458.43,156.03 458.55,156.07 458.66,156.18 458.78,155.46 458.90,155.89 459.02,155.34 459.14,155.93 459.25,156.58 459.37,155.64 459.49,156.00 459.61,155.97 459.73,155.44 459.84,155.98 459.96,155.57 460.08,155.92 460.20,156.14 460.32,155.77 460.43,156.11 460.55,155.57 460.67,155.65 460.79,155.92 460.91,155.76 461.02,155.78 461.14,156.03 461.26,155.69 461.38,156.03 461.50,155.78 461.61,156.25 461.73,155.94 461.85,155.85 461.97,156.21 462.09,156.10 462.20,156.14 462.32,155.77 462.44,156.20 462.56,155.86 462.68,155.54 462.79,155.88 462.91,156.47 463.03,155.96 463.15,155.69 463.27,156.08 463.38,155.67 463.50,155.82 463.62,155.88 463.74,156.08 463.86,156.15 463.97,156.08 464.09,155.99 464.21,155.85 464.33,155.88 464.45,156.09 464.56,155.99 464.68,155.89 464.80,156.49" fill="none" stroke="#9933dd" stroke-width="2.2" stroke-linejoin="round" stroke-linecap="round" />
<polyline points="346.80,167.13 347.39,167.14 347.98,166.91 348.57,166.94 349.16,166.93 349.75,167.17 350.34,166.56 350.93,166.72 351.52,167.48 352.11,166.82 352.70,167.27 353.29,166.16 353.88,167.01 354.47,166.99 355.06,166.80 355.65,166.91 356.24,166.86 356.83,166.22 357.42,166.75 358.01,166.51 358.60,166.39 359.19,167.22 359.78,166.17 360.37,166.57 360.96,166.47 361.55,167.18 362.14,166.52 362.73,166.68 363.32,167.06 363.91,165.95 364.50,166.63 365.09,166.95 365.68,166.78 366.27,166.50 366.86,166.42 367.45,166.64 368.04,166.39 368.63,166.29 369.22,167.36 369.81,167.07 370.40,167.25 370.99,166.85 371.58,166.32 372.17,166.64 372.76,167.31 373.35,167.02 373.94,166.50 374.53,167.12 375.12,166.95 375.71,166.80 376.30,167.64 376.89,166.62 377.48,166.80 378.07,166.72 378.66,167.33 379.25,167.26 379.84,167.20 380.43,166.87 381.02,166.95 381.61,166.93 382.20,166.28 382.79,166.48 383.38,167.29 383.97,167.27 384.56,166.34 385.15,167.15 385.74,166.49 386.33,166.42 386.92,167.27 387.51,167.17 388.10,167.04 388.69,167.42 389.28,167.48 389.87,167.26 390.46,166.78 391.05,167.30 391.64,167.22 392.23,167.33 392.82,167.69 393.41,166.59 394.00,168.10 394.59,167.45 395.18,166.99 395.77,167.77 396.36,166.99 396.95,166.75 397.54,167.60 398.13,167.19 398.72,167.72 399.31,167.10 399.90,167.28 400.49,167.37 401.08,167.27 401.67,168.14 402.26,168.43 402.85,169.41 403.44,170.85 404.03,170.95 404.62,171.72 405.21,173.52 405.80,173.31 406.39,174.18 406.98,173.80 407.57,173.69 408.16,172.59 408.75,171.92 409.34,171.71 409.93,171.07 410.52,171.52 411.11,169.85 411.70,170.71 412.29,171.13 412.88,170.65 413.47,170.60 414.06,170.06 414.65,170.63 415.24,170.16 415.83,170.65 416.42,169.40 417.01,170.06 417.60,169.50 418.19,170.67 418.78,170.01 419.37,170.65 419.96,170.04 420.55,170.01 421.14,170.90 421.73,170.72 422.32,170.73 422.91,170.87 423.50,170.56 424.09,170.66 424.68,170.85 425.27,170.24 425.86,170.07 426.45,170.80 427.04,170.50 427.63,170.28 428.22,170.38 428.81,170.57 429.40,169.97 429.99,169.96 430.58,170.03 431.17,170.38 431.76,169.52 432.35,169.62 432.94,170.47 433.53,170.36 434.12,169.85 434.71,170.64 435.30,170.17 435.89,170.31 436.48,170.61 437.07,170.43 437.66,170.96 438.25,170.56 438.84,171.14 439.43,169.46 440.02,169.77 440.61,169.88 441.20,170.26 441.79,169.99 442.38,169.89 442.97,169.99 443.56,170.04 444.15,170.77 444.74,170.25 445.33,170.63 445.92,170.90 446.51,170.89 447.10,170.28 447.69,170.04 448.28,171.01 448.87,169.79 449.46,169.91 450.05,170.65 450.64,170.69 451.23,170.55 451.82,170.14 452.41,170.69 453.00,170.99 453.59,170.43 454.18,171.39 454.77,170.54 455.36,170.15 455.95,170.50 456.54,170.32 457.13,170.45 457.72,170.37 458.31,170.62 458.90,171.02 459.49,170.80 460.08,170.75 460.67,170.24 461.26,170.12 461.85,170.61 462.44,171.09 463.03,171.10 463.62,170.90 464.21,170.30 464.80,170.74" fill="none" stroke="#ff2200" stroke-width="2.2" stroke-linejoin="round" stroke-linecap="round" />
<polyline points="346.80,152.73 346.92,152.59 347.04,152.56 347.15,152.46 347.27,152.65 347.39,152.41 347.51,152.47 347.63,152.20 347.74,152.32 347.86,152.32 347.98,152.51 348.10,152.81 348.22,153.02 348.33,153.28 348.45,153.47 348.57,153.24 348.69,153.22 348.81,152.96 348.92,152.93 349.04,153.58 349.16,153.66 349.28,154.21 349.40,153.59 349.51,153.85 349.63,153.51 349.75,153.30 349.87,153.49 349.99,153.50 350.10,153.81 350.22,153.87 350.34,153.81 350.46,153.81 350.58,153.56 350.69,153.85 350.81,153.25 350.93,153.25 351.05,153.48 351.17,154.32 351.28,154.33 351.40,154.07 351.52,153.92 351.64,154.07 351.76,153.91 351.87,154.00 351.99,154.08 352.11,154.36 352.23,154.35 352.35,153.93 352.46,153.69 352.58,153.69 352.70,153.86 352.82,153.92 352.94,153.46 353.05,153.60 353.17,153.55 353.29,153.82 353.41,153.89 353.53,153.95 353.64,154.06 353.76,153.96 353.88,153.89 354.00,153.72 354.12,153.40 354.23,153.55 354.35,153.71 354.47,153.47 354.59,153.65 354.71,153.63 354.82,153.92 354.94,153.66 355.06,153.57 355.18,153.70 355.30,153.58 355.41,153.44 355.53,153.51 355.65,153.61 355.77,153.86 355.89,153.89 356.00,153.92 356.12,154.12 356.24,153.88 356.36,153.53 356.48,152.95 356.59,152.83 356.71,153.34 356.83,153.36 356.95,153.74 357.07,153.54 357.18,153.46 357.30,153.52 357.42,153.32 357.54,153.61 357.66,153.41 357.77,153.73 357.89,153.68 358.01,153.72 358.13,153.33 358.25,153.15 358.36,153.31 358.48,153.59 358.60,153.88 358.72,153.82 358.84,153.91 358.95,153.81 359.07,153.60 359.19,153.68 359.31,153.78 359.43,153.62 359.54,153.51 359.66,153.56 359.78,153.33 359.90,152.81 360.02,152.92 360.13,153.48 360.25,153.64 360.37,153.53 360.49,153.29 360.61,153.43 360.72,153.06 360.84,153.49 360.96,153.81 361.08,154.14 361.20,153.42 361.31,152.99 361.43,153.06 361.55,153.14 361.67,152.95 361.79,152.64 361.90,152.78 362.02,152.81 362.14,152.50 362.26,152.38 362.38,152.34 362.49,152.57 362.61,152.65 362.73,152.91 362.85,152.83 362.97,152.80 363.08,152.64 363.20,152.49 363.32,152.32 363.44,152.08 363.56,152.55 363.67,152.52 363.79,152.79 363.91,152.62 364.03,152.88 364.15,152.51 364.26,152.17 364.38,152.12 364.50,152.57 364.62,152.71 364.74,152.65 364.85,152.08 364.97,152.35 365.09,152.61 365.21,152.97 365.33,152.66 365.44,152.26 365.56,152.04 365.68,151.61 365.80,151.69 365.92,151.93 366.03,152.66 366.15,152.53 366.27,152.23 366.39,151.92 366.51,151.72 366.62,151.86 366.74,151.49 366.86,151.64 366.98,151.83 367.10,152.24 367.21,152.59 367.33,152.70 367.45,152.50 367.57,152.01 367.69,151.27 367.80,151.31 367.92,151.51 368.04,152.09 368.16,151.87 368.28,151.73 368.39,151.61 368.51,151.65 368.63,151.59 368.75,151.83 368.87,151.80 368.98,151.87 369.10,151.56 369.22,151.77 369.34,151.43 369.46,151.04 369.57,150.58 369.69,151.13 369.81,151.55 369.93,151.71 370.05,151.71 370.16,151.71 370.28,152.23 370.40,151.61 370.52,151.25 370.64,150.79 370.75,151.10 370.87,151.37 370.99,151.53 371.11,151.44 371.23,151.49 371.34,151.16 371.46,151.37 371.58,151.39 371.70,151.36 371.82,151.29 371.93,151.00 372.05,151.33 372.17,151.74 372.29,151.73 372.41,151.91 372.52,151.25 372.64,151.66 372.76,151.75 372.88,151.90 373.00,151.51 373.11,151.12 373.23,151.42 373.35,151.33 373.47,151.64 373.59,151.50 373.70,151.83 373.82,151.63 373.94,151.38 374.06,151.36 374.18,151.19 374.29,151.23 374.41,151.46 374.53,151.82 374.65,152.06 374.77,151.86 374.88,151.59 375.00,151.92 375.12,151.69 375.24,151.63 375.36,151.31 375.47,151.75 375.59,151.92 375.71,152.02 375.83,151.67 375.95,151.72 376.06,151.50 376.18,151.72 376.30,151.45 376.42,152.08 376.54,152.22 376.65,152.44 376.77,152.31 376.89,152.00 377.01,152.36 377.13,152.07 377.24,152.43 377.36,152.30 377.48,152.31 377.60,152.17 377.72,152.18 377.83,151.81 377.95,151.81 378.07,151.95 378.19,152.21 378.31,152.06 378.42,151.65 378.54,151.50 378.66,151.87 378.78,151.92 378.90,152.07 379.01,151.90 379.13,152.08 379.25,152.92 379.37,153.05 379.49,152.77 379.60,152.55 379.72,152.56 379.84,152.88 379.96,152.43 380.08,152.03 380.19,152.45 380.31,152.58 380.43,152.75 380.55,152.68 380.67,152.71 380.78,152.53 380.90,152.03 381.02,151.93 381.14,152.83 381.26,153.13 381.37,153.18 381.49,152.74 381.61,152.74 381.73,152.23 381.85,152.22 381.96,152.41 382.08,152.98 382.20,153.01 382.32,152.89 382.44,152.96 382.55,152.76 382.67,152.66 382.79,152.88 382.91,153.07 383.03,153.02 383.14,152.88 383.26,152.63 383.38,152.57 383.50,152.67 383.62,152.83 383.73,152.58 383.85,152.06 383.97,152.11 384.09,152.30 384.21,152.71 384.32,152.95 384.44,152.98 384.56,152.76 384.68,152.33 384.80,152.40 384.91,152.33 385.03,152.48 385.15,152.32 385.27,152.16 385.39,152.01 385.50,151.88 385.62,152.33 385.74,152.40 385.86,152.21 385.98,151.44 386.09,151.16 386.21,151.39 386.33,151.91 386.45,151.81 386.57,151.55 386.68,151.52 386.80,151.40 386.92,151.37 387.04,150.91 387.16,151.16 387.27,151.07 387.39,151.37 387.51,150.77 387.63,150.77 387.75,150.62 387.86,150.57 387.98,150.29 388.10,150.11 388.22,149.86 388.34,150.21 388.45,149.94 388.57,150.07 388.69,150.24 388.81,150.01 388.93,150.16 389.04,149.62 389.16,149.92 389.28,149.74 389.40,149.85 389.52,149.72 389.63,149.77 389.75,149.69 389.87,149.09 389.99,149.17 390.11,148.99 390.22,149.29 390.34,148.96 390.46,148.60 390.58,148.33 390.70,148.36 390.81,148.56 390.93,148.69 391.05,148.44 391.17,148.21 391.29,148.30 391.40,148.85 391.52,148.55 391.64,148.24 391.76,147.77 391.88,148.11 391.99,148.39 392.11,148.63 392.23,148.75 392.35,148.68 392.47,148.60 392.58,148.80 392.70,148.81 392.82,148.56 392.94,148.35 393.06,148.27 393.17,148.78 393.29,148.70 393.41,148.71 393.53,148.52 393.65,148.79 393.76,148.65 393.88,148.54 394.00,148.06 394.12,148.17 394.24,147.83 394.35,147.93 394.47,148.07 394.59,148.12 394.71,148.03 394.83,147.50 394.94,147.47 395.06,147.36 395.18,147.20 395.30,146.75 395.42,146.39 395.53,146.21 395.65,146.19 395.77,146.03 395.89,145.90 396.01,145.73 396.12,145.69 396.24,145.65 396.36,145.07 396.48,144.87 396.60,144.69 396.71,144.92 396.83,144.57 396.95,144.07 397.07,143.79 397.19,143.70 397.30,143.19 397.42,142.77 397.54,141.80 397.66,141.29 397.78,140.21 397.89,139.39 398.01,138.82 398.13,138.63 398.25,138.63 398.37,138.27 398.48,137.53 398.60,137.07 398.72,136.25 398.84,135.60 398.96,134.40 399.07,133.83 399.19,133.16 399.31,132.80 399.43,132.22 399.55,132.01 399.66,131.29 399.78,130.40 399.90,129.56 400.02,129.10 400.14,129.21 400.25,128.61 400.37,128.49 400.49,127.82 400.61,127.76 400.73,127.47 400.84,127.09 400.96,126.76 401.08,126.16 401.20,125.87 401.32,125.43 401.43,125.05 401.55,124.50 401.67,123.98 401.79,123.22 401.91,122.58 402.02,121.66 402.14,120.41 402.26,118.76 402.38,116.66 402.50,114.32 402.61,112.44 402.73,110.20 402.85,108.56 402.97,106.08 403.09,103.83 403.20,101.47 403.32,99.29 403.44,96.88 403.56,94.20 403.68,91.45 403.79,89.09 403.91,86.04 404.03,83.40 404.15,80.82 404.27,78.46 404.38,76.05 404.50,73.96 404.62,72.36 404.74,70.98 404.86,69.45 404.97,68.39 405.09,67.37 405.21,65.97 405.33,64.50 405.45,62.78 405.56,60.99 405.68,57.70 405.80,53.68 405.92,49.22 406.04,44.94 406.15,40.83 406.27,37.82 406.39,35.57 406.51,34.57 406.63,34.96 406.74,37.10 406.86,40.68 406.98,44.96 407.10,49.68 407.22,54.63 407.33,59.04 407.45,63.03 407.57,65.92 407.69,68.31 407.81,70.63 407.92,72.84 408.04,74.62 408.16,76.27 408.28,77.50 408.40,79.11 408.51,80.27 408.63,81.55 408.75,82.97 408.87,84.36 408.99,85.50 409.10,86.64 409.22,87.92 409.34,89.21 409.46,90.24 409.58,91.12 409.69,91.86 409.81,92.37 409.93,93.20 410.05,94.19 410.17,95.33 410.28,96.29 410.40,97.55 410.52,98.62 410.64,99.80 410.76,100.72 410.87,101.92 410.99,103.04 411.11,104.02 411.23,105.12 411.35,105.85 411.46,106.73 411.58,107.39 411.70,108.33 411.82,109.08 411.94,110.11 412.05,111.07 412.17,112.40 412.29,113.57 412.41,114.77 412.53,114.98 412.64,115.71 412.76,116.03 412.88,116.82 413.00,117.32 413.12,117.84 413.23,118.50 413.35,118.94 413.47,119.49 413.59,120.40 413.71,121.39 413.82,122.39 413.94,123.22 414.06,123.93 414.18,124.86 414.30,124.87 414.41,125.25 414.53,125.51 414.65,126.59 414.77,126.95 414.89,127.47 415.00,127.89 415.12,128.62 415.24,129.30 415.36,129.81 415.48,129.95 415.59,129.68 415.71,129.74 415.83,129.85 415.95,130.55 416.07,131.16 416.18,132.16 416.30,132.62 416.42,133.37 416.54,133.51 416.66,133.53 416.77,133.36 416.89,133.39 417.01,134.09 417.13,134.71 417.25,135.30 417.36,135.57 417.48,135.32 417.60,135.08 417.72,135.38 417.84,135.92 417.95,136.56 418.07,136.69 418.19,137.08 418.31,137.23 418.43,137.29 418.54,137.16 418.66,137.61 418.78,137.88 418.90,138.48 419.02,138.23 419.13,138.58 419.25,138.46 419.37,138.89 419.49,138.96 419.61,139.27 419.72,139.68 419.84,139.37 419.96,139.25 420.08,139.00 420.20,139.06 420.31,139.27 420.43,139.35 420.55,139.89 420.67,139.77 420.79,139.91 420.90,139.99 421.02,140.40 421.14,140.58 421.26,140.55 421.38,141.04 421.49,141.25 421.61,141.69 421.73,141.48 421.85,141.97 421.97,141.87 422.08,142.11 422.20,141.89 422.32,142.25 422.44,142.54 422.56,142.70 422.67,143.08 422.79,143.05 422.91,143.14 423.03,142.89 423.15,142.80 423.26,142.87 423.38,142.55 423.50,142.57 423.62,142.88 423.74,143.51 423.85,143.81 423.97,143.68 424.09,143.76 424.21,143.87 424.33,143.57 424.44,143.51 424.56,143.46 424.68,143.89 424.80,143.99 424.92,143.69 425.03,143.58 425.15,143.35 425.27,144.26 425.39,144.32 425.51,144.36 425.62,143.38 425.74,143.46 425.86,144.03 425.98,144.33 426.10,144.47 426.21,144.50 426.33,144.76 426.45,144.45 426.57,143.88 426.69,143.64 426.80,144.07 426.92,143.83 427.04,144.22 427.16,144.04 427.28,144.84 427.39,144.37 427.51,144.29 427.63,143.85 427.75,144.12 427.87,144.24 427.98,144.41 428.10,144.82 428.22,144.63 428.34,144.51 428.46,144.24 428.57,144.46 428.69,144.60 428.81,144.24 428.93,144.18 429.05,144.25 429.16,144.69 429.28,145.09 429.40,145.24 429.52,145.15 429.64,144.93 429.75,144.82 429.87,144.71 429.99,144.60 430.11,144.59 430.23,144.63 430.34,144.70 430.46,144.79 430.58,144.85 430.70,145.25 430.82,145.02 430.93,145.39 431.05,144.91 431.17,145.18 431.29,144.73 431.41,144.92 431.52,145.13 431.64,145.16 431.76,145.16 431.88,144.97 432.00,145.19 432.11,145.06 432.23,144.94 432.35,144.94 432.47,145.46 432.59,145.73 432.70,145.78 432.82,145.14 432.94,145.01 433.06,145.08 433.18,145.22 433.29,145.34 433.41,145.35 433.53,145.58 433.65,145.88 433.77,145.71 433.88,145.68 434.00,145.46 434.12,145.90 434.24,145.97 434.36,145.66 434.47,145.59 434.59,145.86 434.71,146.08 434.83,146.29 434.95,146.54 435.06,146.73 435.18,146.58 435.30,146.22 435.42,146.26 435.54,146.08 435.65,146.10 435.77,146.13 435.89,146.31 436.01,146.17 436.13,145.89 436.24,145.65 436.36,145.67 436.48,146.53 436.60,146.94 436.72,147.17 436.83,146.51 436.95,146.66 437.07,146.34 437.19,146.35 437.31,146.19 437.42,146.46 437.54,146.62 437.66,146.67 437.78,146.63 437.90,146.68 438.01,146.84 438.13,147.09 438.25,147.05 438.37,147.01 438.49,146.66 438.60,146.88 438.72,146.34 438.84,146.43 438.96,146.43 439.08,146.77 439.19,146.73 439.31,146.60 439.43,146.87 439.55,147.10 439.67,146.68 439.78,146.76 439.90,146.68 440.02,147.08 440.14,146.82 440.26,147.01 440.37,147.08 440.49,146.85 440.61,146.66 440.73,146.78 440.85,146.66 440.96,147.00 441.08,146.62 441.20,146.83 441.32,146.27 441.44,146.26 441.55,146.00 441.67,146.15 441.79,145.93 441.91,145.97 442.03,145.44 442.14,145.66 442.26,145.38 442.38,145.61 442.50,145.33 442.62,145.57 442.73,145.48 442.85,145.71 442.97,145.78 443.09,145.64 443.21,145.58 443.32,144.97 443.44,145.11 443.56,144.71 443.68,144.95 443.80,144.80 443.91,144.90 444.03,144.99 444.15,145.10 444.27,144.85 444.39,144.56 444.50,144.29 444.62,144.44 444.74,144.72 444.86,145.31 444.98,145.27 445.09,145.09 445.21,144.86 445.33,144.84 445.45,144.78 445.57,144.70 445.68,144.68 445.80,144.90 445.92,145.29 446.04,145.62 446.16,145.79 446.27,145.37 446.39,145.48 446.51,145.52 446.63,145.84 446.75,145.71 446.86,145.65 446.98,145.30 447.10,145.17 447.22,145.19 447.34,145.37 447.45,145.54 447.57,145.59 447.69,145.37 447.81,145.92 447.93,146.01 448.04,146.29 448.16,145.62 448.28,145.84 448.40,145.87 448.52,145.96 448.63,145.87 448.75,146.35 448.87,146.62 448.99,146.81 449.11,146.34 449.22,146.47 449.34,145.92 449.46,146.05 449.58,146.08 449.70,146.56 449.81,146.83 449.93,146.63 450.05,146.26 450.17,146.12 450.29,146.05 450.40,146.56 450.52,146.48 450.64,146.25 450.76,146.37 450.88,146.22 450.99,146.48 451.11,146.61 451.23,147.17 451.35,147.63 451.47,147.11 451.58,146.95 451.70,146.83 451.82,146.92 451.94,146.85 452.06,146.81 452.17,147.05 452.29,146.90 452.41,147.13 452.53,146.78 452.65,147.11 452.76,147.15 452.88,147.39 453.00,147.28 453.12,147.55 453.24,147.67 453.35,148.07 453.47,147.88 453.59,147.81 453.71,147.75 453.83,147.55 453.94,147.82 454.06,147.31 454.18,147.43 454.30,147.62 454.42,148.26 454.53,148.45 454.65,148.23 454.77,148.04 454.89,147.71 455.01,147.73 455.12,147.73 455.24,147.89 455.36,147.97 455.48,147.97 455.60,147.90 455.71,147.75 455.83,147.94 455.95,148.46 456.07,148.79 456.19,148.65 456.30,148.81 456.42,148.76 456.54,148.74 456.66,148.37 456.78,148.51 456.89,148.26 457.01,147.89 457.13,147.72 457.25,147.81 457.37,147.83 457.48,148.00 457.60,147.74 457.72,148.17 457.84,148.00 457.96,148.74 458.07,148.53 458.19,148.73 458.31,148.51 458.43,148.30 458.55,147.99 458.66,148.02 458.78,147.92 458.90,148.12 459.02,147.86 459.14,148.21 459.25,147.97 459.37,148.14 459.49,148.03 459.61,148.06 459.73,148.20 459.84,148.31 459.96,148.18 460.08,148.02 460.20,148.11 460.32,148.31 460.43,148.39 460.55,148.14 460.67,147.93 460.79,147.75 460.91,147.83 461.02,147.82 461.14,148.07 461.26,148.47 461.38,148.45 461.50,148.46 461.61,148.04 461.73,148.22 461.85,147.73 461.97,147.73 462.09,147.39 462.20,147.56 462.32,147.52 462.44,147.84 462.56,147.60 462.68,147.23 462.79,146.71 462.91,146.39 463.03,146.35 463.15,146.39 463.27,146.72 463.38,146.69 463.50,146.76 463.62,146.85 463.74,146.42 463.86,146.65 463.97,146.36 464.09,146.60 464.21,146.14 464.33,146.31 464.45,146.37 464.56,146.42 464.68,146.38 464.80,146.27" fill="none" stroke="#0033ff" stroke-width="2.2" stroke-linejoin="round" stroke-linecap="round" />
<line x1="24.9" y1="22.0" x2="24.9" y2="181.0" stroke="#aaa" stroke-width="1.1"/>
<line x1="23" y1="175.00" x2="24.9" y2="175.00" stroke="#aaa" stroke-width="1"/>
<text x="20.8" y="175.0" font-size="10.3" font-weight="normal" text-anchor="middle" transform="rotate(-90 20.8 175.0)" stroke="#000" stroke-width="0.12" >0</text>
<line x1="23" y1="125.80" x2="24.9" y2="125.80" stroke="#aaa" stroke-width="1"/>
<text x="20.8" y="125.8" font-size="10.3" font-weight="normal" text-anchor="middle" transform="rotate(-90 20.8 125.8)" stroke="#000" stroke-width="0.12" >5</text>
<line x1="23" y1="76.60" x2="24.9" y2="76.60" stroke="#aaa" stroke-width="1"/>
<text x="20.8" y="76.6" font-size="10.3" font-weight="normal" text-anchor="middle" transform="rotate(-90 20.8 76.6)" stroke="#000" stroke-width="0.12" >10</text>
<line x1="23" y1="27.40" x2="24.9" y2="27.40" stroke="#aaa" stroke-width="1"/>
<text x="20.8" y="27.4" font-size="10.3" font-weight="normal" text-anchor="middle" transform="rotate(-90 20.8 27.4)" stroke="#000" stroke-width="0.12" >15</text>
<text x="9.5" y="102.2" font-size="10.2" font-weight="bold" text-anchor="middle" transform="rotate(-90 9.5 102.2)" stroke="#000" stroke-width="0.3" letter-spacing="0.22" >Enrichment Level</text>
<text x="30.0" y="189.0" font-size="10.3" font-weight="normal" text-anchor="middle" stroke="#000" stroke-width="0.12" >-<tspan dx="-0.9">10</tspan></text>
<text x="59.5" y="189.0" font-size="10.3" font-weight="normal" text-anchor="middle" stroke="#000" stroke-width="0.12" >-<tspan dx="-0.9">5</tspan></text>
<text x="89.0" y="189.0" font-size="10.3" font-weight="normal" text-anchor="middle" stroke="#000" stroke-width="0.12" >0</text>
<text x="118.5" y="189.0" font-size="10.3" font-weight="normal" text-anchor="middle" stroke="#000" stroke-width="0.12" >5</text>
<text x="148.0" y="189.0" font-size="10.3" font-weight="normal" text-anchor="middle" stroke="#000" stroke-width="0.12" >10</text>
<text x="188.4" y="189.0" font-size="10.3" font-weight="normal" text-anchor="middle" stroke="#000" stroke-width="0.12" >-<tspan dx="-0.9">10</tspan></text>
<text x="217.9" y="189.0" font-size="10.3" font-weight="normal" text-anchor="middle" stroke="#000" stroke-width="0.12" >-<tspan dx="-0.9">5</tspan></text>
<text x="247.4" y="189.0" font-size="10.3" font-weight="normal" text-anchor="middle" stroke="#000" stroke-width="0.12" >0</text>
<text x="276.9" y="189.0" font-size="10.3" font-weight="normal" text-anchor="middle" stroke="#000" stroke-width="0.12" >5</text>
<text x="306.4" y="189.0" font-size="10.3" font-weight="normal" text-anchor="middle" stroke="#000" stroke-width="0.12" >10</text>
<text x="346.8" y="189.0" font-size="10.3" font-weight="normal" text-anchor="middle" stroke="#000" stroke-width="0.12" >-<tspan dx="-0.9">10</tspan></text>
<text x="376.3" y="189.0" font-size="10.3" font-weight="normal" text-anchor="middle" stroke="#000" stroke-width="0.12" >-<tspan dx="-0.9">5</tspan></text>
<text x="405.8" y="189.0" font-size="10.3" font-weight="normal" text-anchor="middle" stroke="#000" stroke-width="0.12" >0</text>
<text x="435.3" y="189.0" font-size="10.3" font-weight="normal" text-anchor="middle" stroke="#000" stroke-width="0.12" >5</text>
<text x="464.8" y="189.0" font-size="10.3" font-weight="normal" text-anchor="middle" stroke="#000" stroke-width="0.12" >10</text>
<text x="89.05" y="14.6" font-size="10.45" font-weight="bold" text-anchor="middle" stroke="#000" stroke-width="0.3" letter-spacing="0.12" >Low Expressed</text>
<text x="247.85" y="14.6" font-size="10.45" font-weight="bold" text-anchor="middle" stroke="#000" stroke-width="0.3" letter-spacing="0.12" >Medium Expressed</text>
<text x="409.6" y="14.6" font-size="10.45" font-weight="bold" text-anchor="middle" stroke="#000" stroke-width="0.3" letter-spacing="0.12" >High Expressed</text>
<text x="86.8" y="199.9" font-size="10.2" font-weight="bold" text-anchor="middle" stroke="#000" stroke-width="0.3" letter-spacing="0.22" >Distance to TSS (kb)</text>
<text x="246.6" y="199.9" font-size="10.2" font-weight="bold" text-anchor="middle" stroke="#000" stroke-width="0.3" letter-spacing="0.22" >Distance to TSS (kb)</text>
<text x="409.0" y="199.9" font-size="10.2" font-weight="bold" text-anchor="middle" stroke="#000" stroke-width="0.3" letter-spacing="0.22" >Distance to TSS (kb)</text>
<text x="0.6" y="15.6" font-size="20" font-weight="bold" text-anchor="start" stroke="#000" stroke-width="0.3" >A</text>
<rect x="27.5" y="226.6" width="130.8" height="126.6" fill="none" stroke="#cccccc" stroke-width="1"/>
<polyline points="158.3,226.6 158.3,353.2 27.5,353.2" fill="none" stroke="#d6ccf2" stroke-width="1"/>
<line x1="25.5" y1="348.60" x2="27.5" y2="348.60" stroke="#aaa" stroke-width="1"/>
<text x="22.6" y="348.6" font-size="9.6" font-weight="normal" text-anchor="middle" transform="rotate(-90 22.6 348.6)" stroke="#000" stroke-width="0.12" >0.0</text>
<line x1="25.5" y1="325.10" x2="27.5" y2="325.10" stroke="#aaa" stroke-width="1"/>
<text x="22.6" y="325.1" font-size="9.6" font-weight="normal" text-anchor="middle" transform="rotate(-90 22.6 325.1)" stroke="#000" stroke-width="0.12" >0.2</text>
<line x1="25.5" y1="301.60" x2="27.5" y2="301.60" stroke="#aaa" stroke-width="1"/>
<text x="22.6" y="301.6" font-size="9.6" font-weight="normal" text-anchor="middle" transform="rotate(-90 22.6 301.6)" stroke="#000" stroke-width="0.12" >0.4</text>
<line x1="25.5" y1="278.10" x2="27.5" y2="278.10" stroke="#aaa" stroke-width="1"/>
<text x="22.6" y="278.1" font-size="9.6" font-weight="normal" text-anchor="middle" transform="rotate(-90 22.6 278.1)" stroke="#000" stroke-width="0.12" >0.6</text>
<line x1="25.5" y1="254.60" x2="27.5" y2="254.60" stroke="#aaa" stroke-width="1"/>
<text x="22.6" y="254.6" font-size="9.6" font-weight="normal" text-anchor="middle" transform="rotate(-90 22.6 254.6)" stroke="#000" stroke-width="0.12" >0.8</text>
<line x1="25.5" y1="231.10" x2="27.5" y2="231.10" stroke="#aaa" stroke-width="1"/>
<text x="22.6" y="231.1" font-size="9.6" font-weight="normal" text-anchor="middle" transform="rotate(-90 22.6 231.1)" stroke="#000" stroke-width="0.12" >1.0</text>
<text x="42.6" y="361.3" font-size="9.8" font-weight="normal" text-anchor="middle" stroke="#000" stroke-width="0.12" >-<tspan dx="-0.5">4</tspan></text>
<text x="60.9" y="361.3" font-size="9.8" font-weight="normal" text-anchor="middle" stroke="#000" stroke-width="0.12" >-<tspan dx="-0.5">2</tspan></text>
<text x="79.2" y="361.3" font-size="9.8" font-weight="normal" text-anchor="middle" stroke="#000" stroke-width="0.12" >0</text>
<text x="97.5" y="361.3" font-size="9.8" font-weight="normal" text-anchor="middle" stroke="#000" stroke-width="0.12" >2</text>
<text x="115.8" y="361.3" font-size="9.8" font-weight="normal" text-anchor="middle" stroke="#000" stroke-width="0.12" >4</text>
<text x="134.1" y="361.3" font-size="9.8" font-weight="normal" text-anchor="middle" stroke="#000" stroke-width="0.12" >6</text>
<text x="152.4" y="361.3" font-size="9.8" font-weight="normal" text-anchor="middle" stroke="#000" stroke-width="0.12" >8</text>
<text x="9.4" y="290.7" font-size="10.2" font-weight="bold" text-anchor="middle" transform="rotate(-90 9.4 290.7)" stroke="#000" stroke-width="0.3" letter-spacing="0.22" >Scaled Enrichment Level</text>
<text x="91.15" y="374.5" font-size="10.2" font-weight="bold" text-anchor="middle" stroke="#000" stroke-width="0.3" letter-spacing="0.22" >Gene Expression Level</text>
<text x="1.3" y="218.2" font-size="19.5" font-weight="bold" text-anchor="start" stroke="#000" stroke-width="0.3" >B</text>
<polyline points="32.60,348.60 34.50,342.50 35.90,335.90 36.40,329.30 37.40,322.00 38.80,318.00 39.20,308.80 40.20,301.30 41.60,298.00 43.50,296.60 44.90,302.20 46.50,291.00 48.50,299.00 51.00,290.00 53.10,288.90 54.40,282.60 57.30,272.40 60.10,284.60 63.40,285.10 67.60,260.40 69.40,267.20 71.80,261.10 74.10,273.40 76.00,273.80 77.90,255.90 79.80,259.70 81.60,255.00 83.10,266.80 85.40,255.00 87.80,244.80 90.20,250.40 92.10,238.20 93.90,250.40 96.30,239.10 99.10,245.70 101.80,234.40 103.80,246.60 106.20,235.40 107.60,244.80 109.90,239.10 111.80,244.80 113.20,234.40 115.10,243.80 117.90,231.60 120.30,244.80 123.00,233.00 126.10,234.90 129.40,236.30 131.80,240.50 134.10,239.10 139.80,234.90 144.50,235.40 153.40,238.60" fill="none" stroke="#ff9d00" stroke-width="1.45" stroke-linejoin="round" stroke-linecap="round" />
<polyline points="32.60,348.60 36.40,342.50 39.20,329.00 40.20,336.00 41.60,330.00 44.40,331.20 45.80,329.30 48.20,328.50 50.10,321.00 51.90,322.70 55.20,318.00 59.50,315.90 62.30,317.30 66.10,306.50 68.90,304.60 71.80,302.20 73.60,294.70 75.50,297.50 77.40,285.00 79.30,287.90 82.10,279.50 86.40,270.10 87.80,263.90 89.20,267.20 92.90,259.70 95.30,263.90 97.60,256.40 99.10,258.90 100.10,253.20 101.50,244.80 103.40,249.50 105.70,247.60 107.60,245.70 109.90,249.50 112.30,243.80 114.20,246.60 117.00,239.10 119.40,242.90 122.80,239.10 125.60,237.20 128.90,235.40 131.30,236.80 135.10,231.60 139.80,233.00 147.30,233.90 153.40,234.40" fill="none" stroke="#00ee00" stroke-width="1.45" stroke-linejoin="round" stroke-linecap="round" />
<polyline points="32.60,348.60 36.40,342.50 39.20,327.40 40.20,336.80 41.60,329.30 43.50,327.40 45.40,331.20 48.20,328.80 50.10,320.80 51.90,322.70 55.50,317.80 58.10,318.70 60.40,319.60 63.70,316.40 66.30,307.40 69.40,309.80 72.20,303.60 75.50,305.10 77.40,292.00 79.30,293.50 81.60,287.00 84.90,284.20 87.30,276.20 88.70,278.10 92.50,272.40 95.80,269.60 97.60,266.80 99.50,263.00 100.50,254.20 103.40,262.60 105.70,257.00 109.50,253.20 111.80,256.10 113.70,252.30 115.60,246.60 117.50,249.50 119.80,247.60 122.40,247.10 125.20,243.40 128.90,240.50 131.80,242.40 135.10,233.00 139.80,233.90 153.40,231.10" fill="none" stroke="#9933dd" stroke-width="1.45" stroke-linejoin="round" stroke-linecap="round" />
<polyline points="32.60,349.10 37.40,343.40 39.20,336.80 40.60,342.50 42.50,335.90 45.80,336.80 47.20,337.80 49.10,333.10 51.50,329.30 55.20,326.50 57.60,328.80 60.90,327.40 63.80,322.50 67.50,319.20 71.80,317.30 74.10,311.60 76.00,312.60 77.90,299.40 80.70,302.70 84.50,298.90 86.40,290.50 88.20,287.50 89.60,289.80 93.90,282.30 95.80,285.10 98.60,281.40 99.80,276.40 102.00,279.00 106.40,273.10 108.00,275.00 111.40,269.80 113.00,271.00 117.90,264.50 120.80,262.60 124.70,258.90 126.60,259.80 132.20,252.30 138.80,247.60 144.50,241.90 153.40,231.10" fill="none" stroke="#0033ff" stroke-width="1.45" stroke-linejoin="round" stroke-linecap="round" />
<polyline points="32.30,290.30 33.60,231.40 35.00,241.20 35.90,262.00 36.60,279.50 37.50,266.30 38.90,293.60 40.40,263.90 41.80,271.90 44.10,283.20 45.50,278.50 46.90,287.90 48.80,266.80 50.20,290.80 52.10,287.50 53.50,294.50 54.30,297.50 57.10,303.20 59.50,291.40 61.40,300.40 63.50,291.00 66.10,298.50 68.00,301.80 70.40,298.90 72.20,302.20 74.10,309.80 76.50,314.50 77.90,320.10 79.30,319.20 81.20,323.90 84.50,315.40 86.80,327.60 89.90,329.50 92.40,332.80 94.90,334.40 97.40,334.40 99.00,337.70 101.50,343.50 105.60,338.60 108.90,345.20 111.40,341.90 114.70,345.20 118.00,344.30 120.40,346.80 122.90,342.70 126.20,348.50 132.00,344.30 135.30,347.60 141.00,343.50 154.20,346.80" fill="none" stroke="#ff2200" stroke-width="1.45" stroke-linejoin="round" stroke-linecap="round" />
<text x="164.6" y="218.9" font-size="20" font-weight="bold" text-anchor="start" stroke="#000" stroke-width="0.3" >C</text>
<line x1="185.3" y1="231.50" x2="185.3" y2="354.3" stroke="#bbb" stroke-width="1"/>
<line x1="183.3" y1="354.30" x2="185.3" y2="354.30" stroke="#bbb" stroke-width="1"/>
<text x="181.3" y="354.3" font-size="6.4" font-weight="normal" text-anchor="middle" transform="rotate(-90 181.3 354.3)" stroke="#000" stroke-width="0.12" >0.0</text>
<line x1="183.3" y1="323.60" x2="185.3" y2="323.60" stroke="#bbb" stroke-width="1"/>
<text x="181.3" y="323.6" font-size="6.4" font-weight="normal" text-anchor="middle" transform="rotate(-90 181.3 323.6)" stroke="#000" stroke-width="0.12" >0.2</text>
<line x1="183.3" y1="292.90" x2="185.3" y2="292.90" stroke="#bbb" stroke-width="1"/>
<text x="181.3" y="292.9" font-size="6.4" font-weight="normal" text-anchor="middle" transform="rotate(-90 181.3 292.9)" stroke="#000" stroke-width="0.12" >0.4</text>
<line x1="183.3" y1="262.20" x2="185.3" y2="262.20" stroke="#bbb" stroke-width="1"/>
<text x="181.3" y="262.2" font-size="6.4" font-weight="normal" text-anchor="middle" transform="rotate(-90 181.3 262.2)" stroke="#000" stroke-width="0.12" >0.6</text>
<line x1="183.3" y1="231.50" x2="185.3" y2="231.50" stroke="#bbb" stroke-width="1"/>
<text x="181.3" y="231.5" font-size="6.4" font-weight="normal" text-anchor="middle" transform="rotate(-90 181.3 231.5)" stroke="#000" stroke-width="0.12" >0.8</text>
<text transform="translate(171.6 287.6) rotate(-90)" font-size="10.8" font-weight="bold" font-style="italic" text-anchor="middle">R<tspan font-size="7" dy="-4">2</tspan></text>
<rect x="196.00" y="317.31" width="10.15" height="36.99" fill="#ff9900" stroke="#666" stroke-width="0.5"/>
<path d="M199.38,315.31h3.4M199.38,319.31h3.4M201.07,315.31v4.00" stroke="#8a8a8a" stroke-width="0.6" fill="none"/>
<rect x="206.15" y="267.73" width="10.15" height="86.57" fill="#00ee00" stroke="#666" stroke-width="0.5"/>
<path d="M209.53,265.73h3.4M209.53,269.73h3.4M211.22,265.73v4.00" stroke="#8a8a8a" stroke-width="0.6" fill="none"/>
<rect x="216.30" y="272.94" width="10.15" height="81.36" fill="#9933ee" stroke="#666" stroke-width="0.5"/>
<path d="M219.68,270.94h3.4M219.68,274.94h3.4M221.38,270.94v4.00" stroke="#8a8a8a" stroke-width="0.6" fill="none"/>
<rect x="226.45" y="338.64" width="10.15" height="15.66" fill="#ff2200" stroke="#666" stroke-width="0.5"/>
<path d="M229.82,336.64h3.4M229.82,340.64h3.4M231.52,336.64v4.00" stroke="#8a8a8a" stroke-width="0.6" fill="none"/>
<rect x="236.60" y="274.48" width="10.15" height="79.82" fill="#0033ee" stroke="#666" stroke-width="0.5"/>
<path d="M239.97,272.48h3.4M239.97,276.48h3.4M241.67,272.48v4.00" stroke="#8a8a8a" stroke-width="0.6" fill="none"/>
<rect x="246.75" y="263.12" width="10.15" height="91.18" fill="#bbbbbb" stroke="#666" stroke-width="0.5"/>
<path d="M250.12,261.12h3.4M250.12,265.12h3.4M251.82,261.12v4.00" stroke="#8a8a8a" stroke-width="0.6" fill="none"/>
<rect x="256.90" y="258.06" width="10.15" height="96.24" fill="#000000" stroke="#666" stroke-width="0.5"/>
<path d="M260.27,256.06h3.4M260.27,260.06h3.4M261.97,256.06v4.00" stroke="#8a8a8a" stroke-width="0.6" fill="none"/>
<rect x="267.05" y="262.66" width="10.15" height="91.64" fill="#ffffff" stroke="#888" stroke-width="0.5"/>
<path d="M270.43,260.66h3.4M270.43,264.66h3.4M272.12,260.66v4.00" stroke="#8a8a8a" stroke-width="0.6" fill="none"/>
<rect x="287.35" y="322.37" width="10.15" height="31.93" fill="#ff9900" stroke="#666" stroke-width="0.5"/>
<path d="M290.73,320.37h3.4M290.73,324.37h3.4M292.43,320.37v4.00" stroke="#8a8a8a" stroke-width="0.6" fill="none"/>
<rect x="297.50" y="270.95" width="10.15" height="83.35" fill="#00ee00" stroke="#666" stroke-width="0.5"/>
<path d="M300.88,268.95h3.4M300.88,272.95h3.4M302.57,268.95v4.00" stroke="#8a8a8a" stroke-width="0.6" fill="none"/>
<rect x="307.65" y="286.30" width="10.15" height="68.00" fill="#9933ee" stroke="#666" stroke-width="0.5"/>
<path d="M311.03,284.30h3.4M311.03,288.30h3.4M312.73,284.30v4.00" stroke="#8a8a8a" stroke-width="0.6" fill="none"/>
<rect x="317.80" y="340.79" width="10.15" height="13.51" fill="#ff2200" stroke="#666" stroke-width="0.5"/>
<path d="M321.18,338.79h3.4M321.18,342.79h3.4M322.88,338.79v4.00" stroke="#8a8a8a" stroke-width="0.6" fill="none"/>
<rect x="327.95" y="284.61" width="10.15" height="69.69" fill="#0033ee" stroke="#666" stroke-width="0.5"/>
<path d="M331.33,282.61h3.4M331.33,286.61h3.4M333.03,282.61v4.00" stroke="#8a8a8a" stroke-width="0.6" fill="none"/>
<rect x="338.10" y="269.11" width="10.15" height="85.19" fill="#bbbbbb" stroke="#666" stroke-width="0.5"/>
<path d="M341.48,267.11h3.4M341.48,271.11h3.4M343.18,267.11v4.00" stroke="#8a8a8a" stroke-width="0.6" fill="none"/>
<rect x="348.25" y="263.27" width="10.15" height="91.03" fill="#000000" stroke="#666" stroke-width="0.5"/>
<path d="M351.62,261.27h3.4M351.62,265.27h3.4M353.32,261.27v4.00" stroke="#8a8a8a" stroke-width="0.6" fill="none"/>
<rect x="358.40" y="268.80" width="10.15" height="85.50" fill="#ffffff" stroke="#888" stroke-width="0.5"/>
<path d="M361.78,266.80h3.4M361.78,270.80h3.4M363.48,266.80v4.00" stroke="#8a8a8a" stroke-width="0.6" fill="none"/>
<rect x="378.70" y="333.42" width="10.15" height="20.88" fill="#ff9900" stroke="#666" stroke-width="0.5"/>
<path d="M382.07,331.42h3.4M382.07,335.42h3.4M383.77,331.42v4.00" stroke="#8a8a8a" stroke-width="0.6" fill="none"/>
<rect x="388.85" y="287.83" width="10.15" height="66.47" fill="#00ee00" stroke="#666" stroke-width="0.5"/>
<path d="M392.22,285.83h3.4M392.22,289.83h3.4M393.92,285.83v4.00" stroke="#8a8a8a" stroke-width="0.6" fill="none"/>
<rect x="399.00" y="307.33" width="10.15" height="46.97" fill="#9933ee" stroke="#666" stroke-width="0.5"/>
<path d="M402.38,305.33h3.4M402.38,309.33h3.4M404.07,305.33v4.00" stroke="#8a8a8a" stroke-width="0.6" fill="none"/>
<rect x="409.15" y="348.31" width="10.15" height="5.99" fill="#ff2200" stroke="#666" stroke-width="0.5"/>
<path d="M412.52,346.31h3.4M412.52,350.31h3.4M414.22,346.31v4.00" stroke="#8a8a8a" stroke-width="0.6" fill="none"/>
<rect x="419.30" y="305.18" width="10.15" height="49.12" fill="#0033ee" stroke="#666" stroke-width="0.5"/>
<path d="M422.68,303.18h3.4M422.68,307.18h3.4M424.38,303.18v4.00" stroke="#8a8a8a" stroke-width="0.6" fill="none"/>
<rect x="429.45" y="286.76" width="10.15" height="67.54" fill="#bbbbbb" stroke="#666" stroke-width="0.5"/>
<path d="M432.82,284.76h3.4M432.82,288.76h3.4M434.52,284.76v4.00" stroke="#8a8a8a" stroke-width="0.6" fill="none"/>
<rect x="439.60" y="298.27" width="10.15" height="56.03" fill="#000000" stroke="#666" stroke-width="0.5"/>
<path d="M442.98,296.27h3.4M442.98,300.27h3.4M444.68,296.27v4.00" stroke="#8a8a8a" stroke-width="0.6" fill="none"/>
<rect x="449.75" y="292.90" width="10.15" height="61.40" fill="#ffffff" stroke="#888" stroke-width="0.5"/>
<path d="M453.12,290.90h3.4M453.12,294.90h3.4M454.82,290.90v4.00" stroke="#8a8a8a" stroke-width="0.6" fill="none"/>
<text x="209.3" y="369.2" font-size="10.2" font-weight="bold" text-anchor="start" stroke="#000" stroke-width="0.3" letter-spacing="0.0" >TSS +/- 2kb</text>
<text x="302.4" y="369.2" font-size="10.2" font-weight="bold" text-anchor="start" stroke="#000" stroke-width="0.3" letter-spacing="0.0" >TSS +/- 10kb</text>
<text x="393.9" y="369.2" font-size="10.2" font-weight="bold" text-anchor="start" stroke="#000" stroke-width="0.3" letter-spacing="0.0" >TSS +/- 50kb</text>
<rect x="72.0" y="391.8" width="9.4" height="9.0" fill="#ff9900"/>
<text x="88.3" y="401.1" font-size="10.2" font-weight="bold" text-anchor="start" stroke="#000" stroke-width="0.3" letter-spacing="0.22" >H3K4me1</text>
<rect x="146.5" y="391.8" width="9.4" height="9.0" fill="#00ee00"/>
<text x="163.4" y="401.1" font-size="10.2" font-weight="bold" text-anchor="start" stroke="#000" stroke-width="0.3" letter-spacing="0.22" >H3K4me3</text>
<rect x="221.8" y="391.8" width="9.4" height="9.0" fill="#9020a8"/>
<text x="238.0" y="401.1" font-size="10.2" font-weight="bold" text-anchor="start" stroke="#000" stroke-width="0.3" letter-spacing="0.22" >H3K27ac</text>
<rect x="291.7" y="391.8" width="9.4" height="9.0" fill="#ff2200"/>
<text x="308.0" y="401.1" font-size="10.2" font-weight="bold" text-anchor="start" stroke="#000" stroke-width="0.3" letter-spacing="0.22" >H3K27me3</text>
<rect x="371.1" y="391.8" width="9.4" height="9.0" fill="#1020ff"/>
<text x="387.7" y="401.1" font-size="10.2" font-weight="bold" text-anchor="start" stroke="#000" stroke-width="0.3" letter-spacing="0.22" >Pol II</text>
<rect x="72.5" y="411.6" width="9.4" height="9.0" fill="#999999"/>
<text x="89.8" y="420.5" font-size="10.2" font-weight="bold" text-anchor="start" stroke="#000" stroke-width="0.3" letter-spacing="0.13" >marginal</text>
<rect x="143.3" y="411.6" width="9.4" height="9.0" fill="#000000"/>
<text x="159.2" y="420.5" font-size="10.2" font-weight="bold" text-anchor="start" stroke="#000" stroke-width="0.3" letter-spacing="0.13" >marginal + interactions</text>
<rect x="282.3" y="411.6" width="9.4" height="9.0" fill="#ffffff" stroke="#444" stroke-width="1"/>
<text x="298.1" y="420.5" font-size="10.2" font-weight="bold" text-anchor="start" stroke="#000" stroke-width="0.3" letter-spacing="0.13" >marginal + chromatin states</text>
</svg></body></html>
